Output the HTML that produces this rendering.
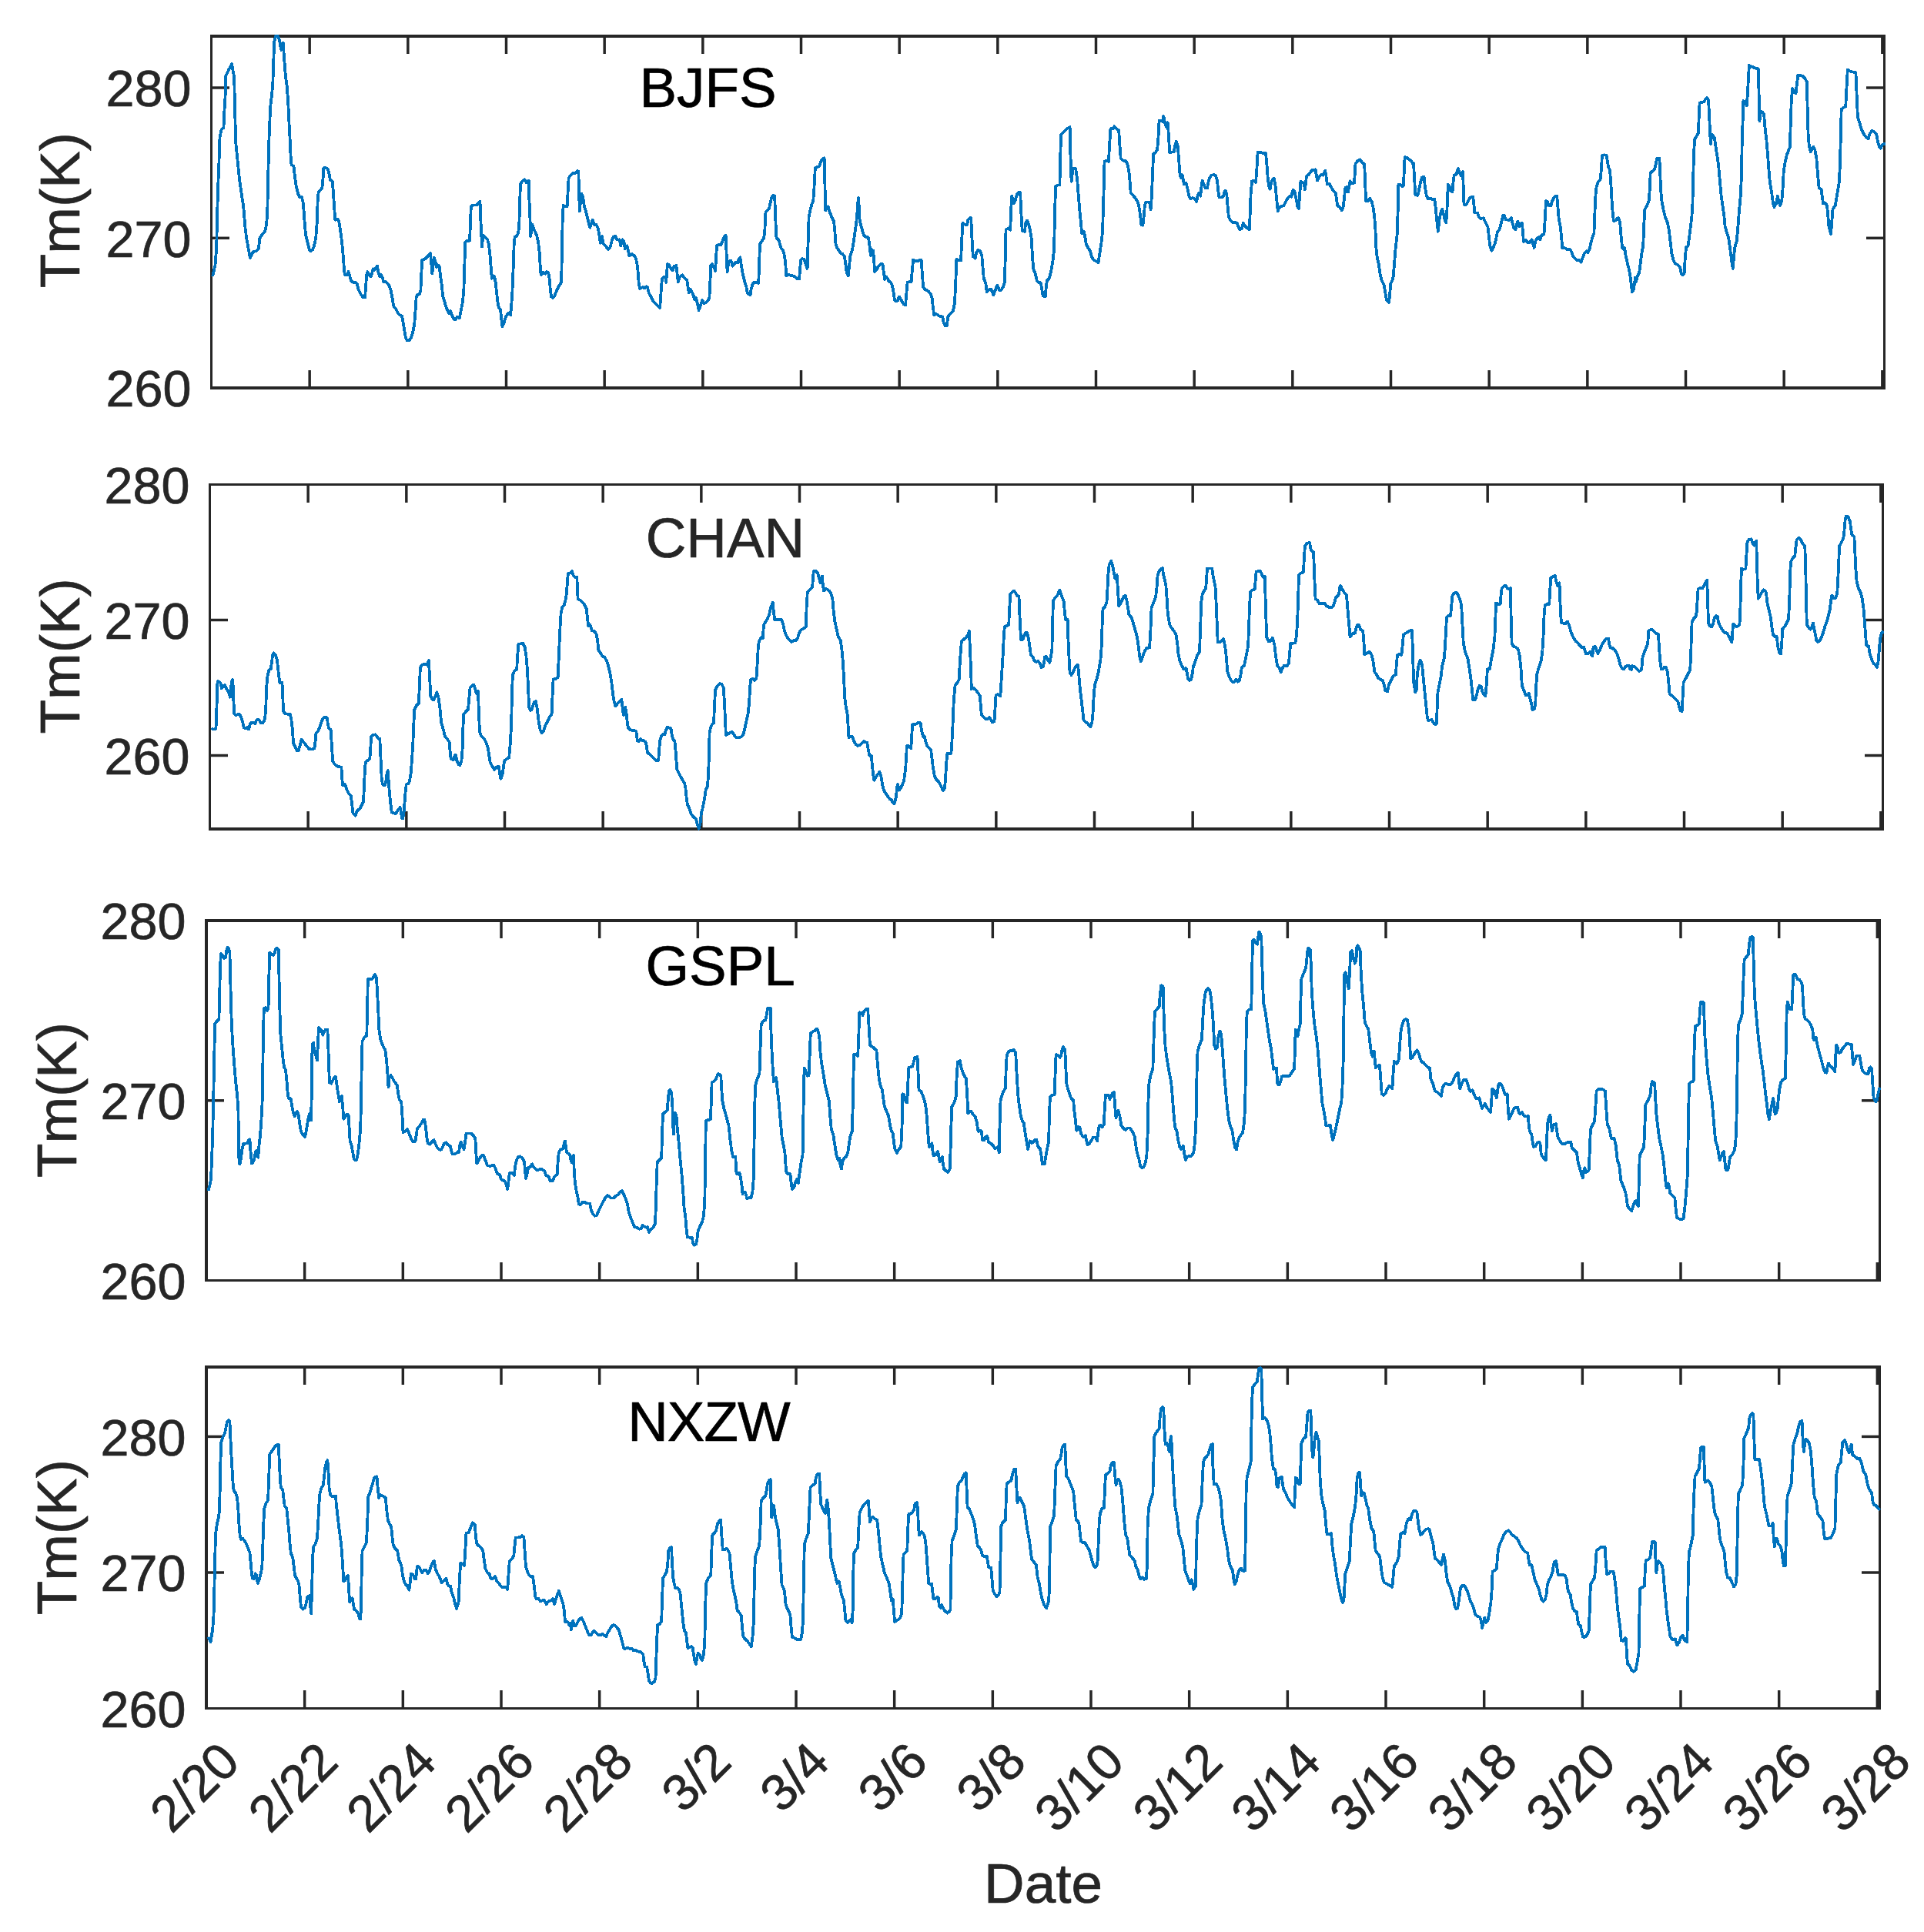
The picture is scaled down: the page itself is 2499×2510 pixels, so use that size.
<!DOCTYPE html>
<html><head><meta charset="utf-8"><title>Tm time series</title>
<style>
html,body{margin:0;padding:0;background:#fff}
svg{display:block}
text{font-family:"Liberation Sans",sans-serif;stroke-width:0.7px;stroke-linejoin:round}
</style></head><body>
<svg width="2499" height="2510" viewBox="0 0 2499 2510">
<rect width="2499" height="2510" fill="#fff"/>
<g fill="#262626" shape-rendering="crispEdges">
<rect x="273" y="45" width="2176" height="4"/>
<rect x="273" y="502" width="2176" height="4"/>
<rect x="273" y="45" width="3" height="461"/>
<rect x="2446" y="45" width="3" height="461"/>
</g>
<g fill="#262626"><rect x="400.43" y="45" width="3.47" height="25"/><rect x="400.43" y="481" width="3.47" height="25"/><rect x="528.10" y="45" width="3.47" height="25"/><rect x="528.10" y="481" width="3.47" height="25"/><rect x="655.77" y="45" width="3.47" height="25"/><rect x="655.77" y="481" width="3.47" height="25"/><rect x="783.43" y="45" width="3.47" height="25"/><rect x="783.43" y="481" width="3.47" height="25"/><rect x="911.10" y="45" width="3.47" height="25"/><rect x="911.10" y="481" width="3.47" height="25"/><rect x="1038.77" y="45" width="3.47" height="25"/><rect x="1038.77" y="481" width="3.47" height="25"/><rect x="1166.43" y="45" width="3.47" height="25"/><rect x="1166.43" y="481" width="3.47" height="25"/><rect x="1294.10" y="45" width="3.47" height="25"/><rect x="1294.10" y="481" width="3.47" height="25"/><rect x="1421.77" y="45" width="3.47" height="25"/><rect x="1421.77" y="481" width="3.47" height="25"/><rect x="1549.44" y="45" width="3.47" height="25"/><rect x="1549.44" y="481" width="3.47" height="25"/><rect x="1677.10" y="45" width="3.47" height="25"/><rect x="1677.10" y="481" width="3.47" height="25"/><rect x="1804.77" y="45" width="3.47" height="25"/><rect x="1804.77" y="481" width="3.47" height="25"/><rect x="1932.44" y="45" width="3.47" height="25"/><rect x="1932.44" y="481" width="3.47" height="25"/><rect x="2060.10" y="45" width="3.47" height="25"/><rect x="2060.10" y="481" width="3.47" height="25"/><rect x="2187.77" y="45" width="3.47" height="25"/><rect x="2187.77" y="481" width="3.47" height="25"/><rect x="2315.44" y="45" width="3.47" height="25"/><rect x="2315.44" y="481" width="3.47" height="25"/><rect x="2443.10" y="45" width="3.47" height="25"/><rect x="2443.10" y="481" width="3.47" height="25"/><rect x="273" y="112.27" width="25" height="3.47"/><rect x="2424" y="112.27" width="25" height="3.47"/><rect x="273" y="307.56" width="25" height="3.47"/><rect x="2424" y="307.56" width="25" height="3.47"/></g>
<clipPath id="c0"><rect x="273" y="45" width="2176" height="461"/></clipPath>
<path d="M276.2,358.9 L279.5,344.4 L281.2,321.9 L282.0,284.5 L283.0,247.1 L284.5,209.7 L285.5,178.5 L287.5,168.5 L290.4,166.0 L291.4,144.8 L292.9,119.8 L293.2,98.6 L297.4,89.9 L301.2,83.2 L302.4,91.1 L304.2,99.9 L304.9,134.8 L306.2,184.7 L308.7,209.7 L311.2,234.6 L313.7,252.1 L316.1,267.0 L318.6,297.0 L320.4,310.7 L322.9,324.4 L324.9,335.1 L327.4,329.4 L329.4,326.9 L332.4,326.4 L335.9,323.2 L337.4,309.5 L340.6,304.5 L344.3,300.2 L346.1,292.0 L347.3,274.5 L348.1,234.6 L349.3,184.7 L351.1,139.8 L353.1,122.3 L354.3,109.9 L355.3,79.9 L356.1,55.0 L357.8,47.0 L361.1,47.0 L363.1,52.5 L364.3,60.0 L365.3,64.9 L366.8,56.2 L368.0,55.7 L368.5,67.4 L369.8,84.9 L371.0,99.9 L372.8,112.3 L374.3,134.8 L375.5,159.8 L376.8,184.7 L377.8,207.2 L378.5,214.1 L381.5,215.9 L382.8,228.4 L384.8,242.1 L387.3,252.1 L389.0,255.8 L391.7,255.8 L393.5,262.0 L394.7,274.5 L396.0,294.5 L397.2,305.7 L399.7,315.7 L401.7,324.4 L403.7,326.2 L406.0,324.4 L408.0,319.4 L410.2,309.5 L411.7,289.5 L412.7,259.6 L413.7,249.6 L415.9,247.1 L418.4,244.1 L419.7,229.6 L420.4,218.4 L422.7,217.9 L425.9,219.6 L427.7,227.1 L428.9,233.4 L431.7,235.8 L432.7,247.1 L434.2,269.5 L435.2,285.7 L438.4,284.5 L440.1,287.0 L442.1,299.5 L444.1,314.4 L445.9,334.4 L447.1,351.9 L447.9,356.9 L450.9,356.9 L452.6,353.1 L454.1,358.1 L455.9,364.3 L458.4,366.8 L462.1,366.8 L463.9,369.3 L465.8,376.8 L468.3,381.8 L471.6,386.3 L474.1,386.3 L475.1,371.8 L476.3,356.9 L477.3,353.1 L479.1,356.4 L481.6,359.4 L483.3,354.4 L484.6,349.4 L486.6,350.6 L488.3,348.1 L490.0,345.6 L491.5,354.4 L493.3,359.4 L495.0,356.9 L497.0,361.8 L498.3,366.3 L500.8,365.6 L503.3,368.1 L505.8,371.8 L507.5,376.8 L509.5,386.8 L510.8,395.5 L512.0,399.3 L514.5,401.8 L517.0,406.8 L519.5,409.3 L522.0,410.5 L523.7,419.2 L525.7,431.7 L527.0,439.2 L528.7,442.4 L531.5,442.4 L534.0,438.7 L536.2,431.7 L538.2,421.7 L539.5,404.3 L540.7,385.5 L542.4,383.1 L544.9,381.8 L546.4,376.8 L547.4,354.4 L548.2,338.1 L551.9,336.4 L554.4,334.4 L556.9,331.4 L558.9,328.9 L560.2,341.9 L561.4,355.6 L562.4,341.9 L563.9,334.4 L565.6,340.6 L566.9,346.9 L568.9,344.4 L570.6,345.6 L571.9,356.9 L573.9,371.8 L575.1,384.3 L578.1,394.3 L580.6,401.8 L583.1,407.5 L585.1,403.8 L586.9,409.3 L589.4,414.2 L591.3,415.5 L593.8,411.7 L596.8,413.0 L598.1,406.8 L600.6,394.3 L602.3,379.3 L603.3,346.9 L604.3,314.4 L606.3,312.7 L610.1,312.7 L610.8,294.5 L611.8,268.3 L614.3,266.5 L619.3,266.5 L621.8,263.3 L623.5,262.0 L624.3,284.5 L625.5,309.5 L626.0,320.7 L627.3,305.7 L629.8,308.2 L633.0,310.7 L634.8,316.9 L636.3,329.4 L637.5,344.4 L638.8,361.8 L640.0,358.1 L642.2,359.4 L643.7,366.8 L645.5,384.3 L646.7,394.3 L648.0,399.8 L650.0,401.8 L651.2,414.2 L652.5,424.2 L654.7,419.2 L656.7,412.2 L659.2,408.0 L661.7,406.3 L663.2,409.3 L664.2,396.8 L665.4,379.3 L666.7,346.9 L667.7,316.9 L668.7,307.7 L671.2,307.0 L672.9,303.2 L674.2,294.5 L674.9,272.0 L675.9,239.1 L678.4,235.8 L681.2,233.4 L683.7,237.1 L686.7,234.6 L687.4,259.6 L688.7,289.5 L689.2,307.0 L690.6,295.7 L691.6,292.0 L693.6,298.2 L695.4,302.0 L697.1,305.7 L699.1,314.4 L700.6,326.9 L701.6,344.4 L702.6,356.9 L705.4,353.9 L708.6,355.6 L710.4,353.1 L712.4,354.4 L713.6,361.8 L714.9,376.8 L716.1,385.5 L718.3,386.8 L720.3,384.3 L723.6,376.3 L726.6,370.6 L729.1,366.8 L729.8,334.4 L730.6,289.5 L731.6,267.0 L734.1,268.3 L736.6,268.3 L737.3,254.6 L738.6,232.1 L740.3,228.4 L744.0,225.1 L748.0,224.6 L750.0,222.1 L751.4,222.6 L751.9,247.1 L752.9,274.5 L754.2,259.6 L755.4,251.6 L756.9,254.6 L758.7,267.0 L761.2,275.8 L763.7,285.7 L766.2,295.7 L768.7,288.2 L769.9,285.7 L771.9,292.0 L774.4,292.0 L776.9,297.0 L778.6,307.0 L779.9,315.7 L781.9,307.0 L783.6,316.9 L787.4,320.7 L790.4,323.9 L792.4,321.9 L794.9,311.9 L796.9,307.5 L799.4,307.0 L801.1,310.7 L803.6,311.9 L804.8,311.4 L806.1,319.4 L808.6,311.4 L810.3,313.2 L811.8,323.2 L814.3,319.4 L816.1,325.7 L817.3,332.4 L821.1,330.2 L823.6,331.9 L825.5,334.4 L827.3,341.9 L828.5,351.9 L829.8,369.3 L831.0,374.8 L834.8,373.1 L837.3,374.3 L839.3,372.3 L841.0,373.3 L842.8,380.6 L844.8,384.3 L847.3,389.3 L849.3,392.3 L852.2,395.5 L854.7,398.0 L857.2,399.8 L858.0,389.3 L859.2,369.3 L860.2,361.8 L862.2,360.1 L864.0,359.9 L865.2,366.8 L866.5,349.4 L867.2,343.1 L869.0,344.4 L871.0,348.1 L873.5,351.4 L875.9,345.6 L878.4,345.1 L879.7,356.9 L880.9,366.3 L882.7,360.6 L884.7,358.6 L886.7,357.4 L888.4,360.6 L890.4,362.3 L892.2,363.8 L893.4,371.8 L894.7,380.1 L896.7,375.6 L898.4,378.8 L900.4,383.1 L902.1,388.8 L904.1,387.3 L905.9,394.3 L907.6,403.0 L909.6,398.0 L912.1,389.8 L914.6,394.3 L917.1,393.0 L919.6,390.5 L921.4,386.8 L922.1,371.8 L923.4,344.4 L924.6,343.1 L927.1,346.4 L929.1,351.9 L930.1,334.4 L931.1,318.9 L933.3,318.2 L936.6,318.2 L938.3,313.2 L940.8,307.5 L942.6,305.7 L943.3,321.9 L944.6,353.1 L945.8,344.4 L947.1,339.4 L949.6,338.9 L951.5,345.6 L953.3,343.1 L955.8,340.6 L958.3,341.4 L959.5,336.9 L961.3,334.4 L962.8,344.4 L965.0,356.9 L967.5,366.8 L969.5,373.1 L970.8,380.6 L972.5,382.3 L974.5,383.1 L975.7,375.6 L977.5,369.3 L979.5,366.8 L982.0,366.8 L985.2,368.1 L986.0,346.9 L987.0,316.9 L989.5,313.2 L992.0,309.5 L993.2,302.0 L994.5,275.8 L997.0,273.3 L999.0,270.8 L1000.7,263.3 L1002.4,255.8 L1004.4,254.1 L1006.2,254.6 L1006.9,274.5 L1008.2,307.0 L1009.4,310.7 L1011.4,311.4 L1013.2,318.2 L1014.9,323.2 L1016.9,324.9 L1018.9,331.9 L1020.2,341.9 L1021.4,358.6 L1023.2,356.9 L1025.6,357.4 L1028.1,358.1 L1030.6,358.6 L1033.1,359.9 L1035.6,362.3 L1038.1,362.3 L1038.9,351.9 L1040.1,338.1 L1041.9,336.1 L1044.4,336.9 L1046.4,343.1 L1048.6,348.9 L1049.4,321.9 L1050.6,282.0 L1052.3,273.3 L1054.3,265.8 L1056.3,260.8 L1057.3,247.1 L1058.8,218.4 L1061.3,217.1 L1064.3,215.9 L1066.3,209.7 L1068.8,205.9 L1070.6,205.4 L1071.3,234.6 L1072.3,273.3 L1073.8,269.5 L1075.5,268.3 L1076.8,273.3 L1079.3,279.5 L1081.3,284.5 L1083.0,287.0 L1084.3,299.5 L1085.5,316.9 L1087.3,321.9 L1089.8,325.7 L1091.8,328.9 L1094.3,329.9 L1096.8,333.2 L1098.5,344.4 L1099.8,354.4 L1101.7,358.1 L1103.0,346.9 L1104.2,333.2 L1106.7,325.7 L1108.7,314.4 L1111.2,297.0 L1113.0,282.0 L1114.2,264.5 L1115.0,257.1 L1115.7,267.0 L1116.7,287.0 L1118.7,294.5 L1120.5,300.7 L1122.2,305.7 L1124.2,307.5 L1126.2,308.2 L1127.9,308.5 L1129.2,316.9 L1130.9,331.9 L1132.4,324.4 L1134.2,325.7 L1135.4,341.9 L1136.2,353.1 L1138.7,349.9 L1140.4,346.9 L1142.9,343.9 L1145.4,342.6 L1146.7,344.4 L1147.9,354.4 L1149.2,363.1 L1150.9,359.4 L1152.9,361.8 L1154.6,365.6 L1157.1,366.8 L1159.1,371.8 L1160.9,381.8 L1162.1,390.5 L1164.1,391.3 L1166.1,390.5 L1167.9,385.5 L1169.6,388.0 L1171.6,391.8 L1174.1,395.5 L1176.1,396.3 L1177.1,384.3 L1178.6,366.8 L1181.1,366.3 L1183.6,366.3 L1184.8,351.9 L1186.1,337.4 L1188.6,338.9 L1191.6,339.4 L1194.1,338.1 L1196.6,338.1 L1197.8,354.4 L1199.1,373.1 L1201.5,376.3 L1204.0,377.3 L1206.2,378.8 L1208.7,381.8 L1210.7,388.0 L1211.9,399.3 L1213.2,409.3 L1216.2,408.0 L1219.9,410.5 L1224.4,411.7 L1225.7,419.2 L1227.4,423.0 L1229.9,423.0 L1231.2,411.7 L1234.9,406.8 L1237.9,403.8 L1239.9,394.3 L1241.1,371.8 L1242.4,336.9 L1244.9,338.1 L1248.1,338.6 L1249.1,314.4 L1250.4,290.0 L1252.9,291.5 L1256.1,292.0 L1257.4,285.7 L1259.4,283.3 L1261.3,283.3 L1262.3,307.0 L1263.8,333.2 L1266.6,335.6 L1268.1,328.2 L1270.3,324.9 L1272.8,325.7 L1275.3,331.9 L1276.6,348.1 L1277.8,361.8 L1280.3,368.1 L1281.8,379.3 L1284.3,376.3 L1287.3,375.6 L1290.3,383.1 L1292.8,376.8 L1295.3,370.6 L1297.8,376.8 L1300.3,376.8 L1302.8,373.1 L1304.8,366.8 L1305.8,334.4 L1306.5,298.2 L1309.0,297.0 L1312.2,298.7 L1313.2,272.0 L1314.2,254.6 L1316.7,264.5 L1318.5,260.8 L1321.0,252.1 L1323.5,250.1 L1325.2,250.1 L1326.2,274.5 L1327.7,300.0 L1331.0,300.7 L1332.2,289.5 L1334.0,286.5 L1335.9,290.7 L1337.9,298.2 L1339.7,309.5 L1340.9,331.9 L1342.2,348.9 L1344.7,355.6 L1346.7,364.3 L1348.7,366.8 L1351.7,367.3 L1353.4,376.8 L1354.7,384.3 L1357.7,385.5 L1358.9,371.8 L1360.1,364.3 L1362.6,361.8 L1365.1,353.1 L1367.6,338.1 L1369.1,324.4 L1370.1,274.5 L1371.1,242.1 L1373.4,240.8 L1376.4,240.1 L1377.1,209.7 L1378.1,174.7 L1382.1,171.0 L1385.8,167.2 L1389.6,165.2 L1390.3,197.2 L1391.6,235.8 L1392.8,224.6 L1394.1,218.4 L1397.1,219.1 L1399.1,232.1 L1400.8,254.6 L1402.6,275.8 L1404.6,297.0 L1405.3,303.2 L1407.8,300.7 L1409.6,309.5 L1410.8,316.9 L1413.3,321.9 L1415.8,325.7 L1418.3,334.4 L1420.8,338.1 L1424.0,339.4 L1426.5,341.1 L1428.3,329.4 L1430.3,316.9 L1432.0,302.0 L1433.3,259.6 L1434.5,210.1 L1437.0,208.4 L1440.0,209.7 L1441.0,189.7 L1442.5,167.2 L1445.7,167.2 L1447.5,164.2 L1450.0,167.2 L1453.2,169.2 L1454.5,189.7 L1455.7,205.9 L1458.2,208.4 L1462.4,209.2 L1464.9,214.6 L1466.9,227.1 L1468.7,250.8 L1471.2,253.3 L1474.4,257.1 L1477.4,261.5 L1479.4,268.3 L1481.2,280.8 L1482.4,292.0 L1484.4,292.7 L1485.6,282.0 L1486.9,267.0 L1488.1,262.5 L1490.6,262.5 L1493.1,263.3 L1494.6,272.0 L1495.6,259.6 L1496.9,229.6 L1498.1,199.7 L1500.6,198.4 L1503.1,194.7 L1504.4,179.7 L1505.6,156.5 L1508.1,157.3 L1509.9,157.8 L1511.3,151.0 L1513.1,159.8 L1514.8,164.7 L1516.8,159.3 L1518.1,179.7 L1519.3,198.4 L1521.8,197.7 L1524.8,197.2 L1526.1,189.7 L1527.8,183.5 L1529.8,189.7 L1531.3,209.7 L1532.6,227.1 L1533.8,230.9 L1535.5,227.1 L1536.8,233.4 L1538.0,239.6 L1540.5,237.6 L1542.3,244.6 L1544.3,254.6 L1546.0,258.3 L1549.3,257.1 L1551.8,258.3 L1554.3,262.0 L1555.5,254.6 L1557.3,250.8 L1559.3,254.6 L1560.5,242.1 L1561.7,234.6 L1563.7,239.6 L1565.5,244.1 L1568.0,244.6 L1569.2,237.6 L1571.2,230.9 L1573.5,227.6 L1576.7,227.1 L1579.2,228.4 L1581.0,234.6 L1582.2,247.1 L1583.5,256.3 L1586.2,256.6 L1588.7,255.8 L1590.4,249.6 L1591.7,247.6 L1593.4,253.3 L1594.7,269.5 L1595.9,282.0 L1597.9,285.7 L1601.2,289.0 L1604.2,289.0 L1606.7,290.0 L1608.4,294.5 L1610.4,298.2 L1612.9,297.0 L1614.6,290.0 L1616.6,293.2 L1619.1,295.7 L1622.9,298.2 L1623.6,279.5 L1624.6,252.1 L1626.1,235.3 L1629.1,235.1 L1631.1,237.1 L1632.4,219.6 L1633.6,197.7 L1636.6,197.9 L1640.3,198.9 L1644.1,199.2 L1645.3,212.1 L1646.6,229.6 L1647.8,240.8 L1649.6,245.8 L1651.1,237.1 L1652.8,233.4 L1654.8,231.6 L1656.6,242.1 L1658.3,259.6 L1659.8,274.5 L1661.5,269.5 L1664.0,268.3 L1667.5,267.0 L1670.0,262.0 L1672.9,257.1 L1675.4,255.1 L1677.4,255.8 L1678.7,248.3 L1679.9,246.6 L1681.9,250.1 L1683.7,259.6 L1685.4,268.3 L1686.9,270.8 L1688.2,252.1 L1689.4,235.8 L1691.9,237.1 L1693.7,238.3 L1694.9,246.6 L1696.1,237.1 L1696.9,229.1 L1699.9,226.6 L1702.4,223.4 L1704.4,220.9 L1708.6,220.4 L1709.9,228.4 L1711.1,234.6 L1713.6,229.1 L1716.1,227.1 L1718.6,227.6 L1721.1,221.6 L1722.3,227.1 L1723.8,239.6 L1726.8,239.1 L1729.8,244.6 L1732.3,248.3 L1734.8,250.8 L1736.1,259.6 L1737.3,267.0 L1739.8,269.0 L1742.8,273.3 L1744.8,268.3 L1746.0,257.1 L1747.3,244.1 L1749.3,242.6 L1751.0,249.6 L1752.3,242.1 L1753.5,235.3 L1756.0,238.3 L1759.0,237.6 L1759.8,224.6 L1760.5,212.6 L1763.5,208.9 L1766.5,207.2 L1769.0,210.9 L1772.2,213.4 L1773.0,234.6 L1774.2,261.5 L1777.2,260.8 L1779.2,257.8 L1781.7,262.0 L1783.5,269.5 L1785.2,280.8 L1786.5,299.5 L1787.2,319.4 L1788.5,333.2 L1791.0,344.4 L1792.7,356.9 L1794.7,364.3 L1797.7,370.6 L1799.2,379.3 L1800.9,389.3 L1804.2,393.0 L1805.2,381.8 L1806.4,368.1 L1808.4,364.3 L1809.7,359.4 L1810.9,344.4 L1812.7,321.9 L1814.7,304.5 L1815.7,272.0 L1816.4,239.6 L1818.9,239.6 L1821.4,242.1 L1822.9,240.8 L1823.9,219.6 L1824.6,204.2 L1827.1,204.7 L1830.1,207.2 L1832.6,208.4 L1834.6,212.1 L1836.1,212.1 L1837.1,232.1 L1838.4,253.3 L1840.9,253.8 L1842.1,252.1 L1843.4,244.6 L1845.3,235.8 L1847.1,230.4 L1849.6,230.1 L1850.8,242.1 L1852.6,253.3 L1854.6,258.3 L1858.3,257.8 L1860.8,259.1 L1863.3,258.8 L1864.6,269.5 L1866.3,287.0 L1867.8,300.7 L1869.6,284.5 L1871.5,275.8 L1873.3,271.5 L1875.0,278.3 L1877.0,287.0 L1878.3,289.5 L1879.5,272.0 L1880.8,239.6 L1882.5,242.1 L1884.0,248.3 L1886.5,249.1 L1887.5,237.1 L1888.8,227.6 L1891.5,226.6 L1893.8,219.1 L1895.7,223.4 L1897.5,228.4 L1900.0,222.9 L1900.7,242.1 L1901.5,265.8 L1904.5,265.8 L1907.0,260.8 L1909.5,256.6 L1913.2,255.8 L1914.5,267.0 L1915.2,276.5 L1919.0,276.5 L1920.7,281.5 L1923.2,284.0 L1926.9,283.3 L1929.4,289.0 L1932.4,294.5 L1933.9,307.0 L1935.2,319.4 L1937.4,325.7 L1939.4,321.9 L1941.9,315.7 L1943.9,307.0 L1945.1,300.7 L1947.6,298.2 L1949.9,289.5 L1952.4,279.5 L1953.9,280.3 L1955.6,285.2 L1958.9,285.7 L1960.6,285.7 L1963.1,283.3 L1964.4,289.5 L1966.4,296.5 L1968.6,298.2 L1969.9,292.0 L1971.3,287.5 L1973.1,294.5 L1974.8,290.7 L1976.8,289.5 L1978.1,302.0 L1978.8,313.9 L1981.8,311.9 L1984.3,314.9 L1986.8,314.9 L1989.8,311.4 L1991.3,316.9 L1992.6,321.9 L1994.3,313.2 L1996.8,309.5 L1998.8,308.2 L2000.5,311.4 L2002.3,305.7 L2005.5,304.0 L2006.8,284.5 L2008.0,260.8 L2009.8,262.0 L2011.8,267.0 L2014.3,267.5 L2016.3,260.8 L2018.5,256.6 L2020.5,254.6 L2022.2,254.6 L2023.5,269.5 L2024.7,284.5 L2026.7,294.5 L2028.0,307.0 L2029.2,321.9 L2033.0,322.4 L2035.5,323.9 L2039.2,323.9 L2041.7,328.2 L2043.0,332.4 L2045.4,335.6 L2047.9,338.1 L2051.2,338.1 L2053.7,340.6 L2055.4,335.6 L2057.9,329.4 L2060.4,326.4 L2062.4,328.2 L2064.7,323.2 L2066.7,314.4 L2069.2,305.7 L2070.4,303.2 L2071.6,272.0 L2072.9,245.8 L2074.6,239.6 L2076.1,235.8 L2078.6,233.4 L2079.9,219.6 L2080.9,202.2 L2083.6,201.4 L2086.6,201.7 L2087.9,209.7 L2089.1,217.1 L2091.1,221.6 L2092.4,239.6 L2094.1,269.5 L2095.8,287.0 L2098.6,286.5 L2100.3,284.0 L2102.1,282.8 L2104.1,288.2 L2105.6,307.0 L2107.1,321.9 L2108.6,323.9 L2110.1,321.9 L2111.6,331.9 L2114.1,343.1 L2116.1,350.6 L2117.8,361.8 L2119.1,371.8 L2119.8,379.3 L2121.5,377.3 L2122.8,369.3 L2124.0,360.6 L2124.7,366.8 L2126.7,359.4 L2129.2,353.9 L2131.0,339.4 L2132.7,326.9 L2134.2,319.4 L2135.4,289.5 L2136.4,272.0 L2139.2,267.0 L2141.7,260.8 L2142.7,247.1 L2143.7,224.1 L2146.7,222.1 L2149.2,219.6 L2150.9,212.1 L2152.2,205.9 L2155.4,205.9 L2156.2,224.6 L2157.2,247.1 L2158.4,260.8 L2160.4,272.0 L2162.9,282.0 L2165.9,289.5 L2167.9,299.5 L2169.6,314.4 L2171.4,329.4 L2173.4,338.1 L2175.9,342.4 L2179.1,343.9 L2182.1,347.4 L2183.9,355.6 L2185.8,357.4 L2187.6,354.9 L2188.8,334.4 L2190.1,321.4 L2192.6,319.4 L2194.6,304.5 L2197.1,284.5 L2198.3,269.5 L2199.1,234.6 L2200.1,197.2 L2201.3,181.0 L2203.3,177.2 L2205.8,173.5 L2206.6,154.8 L2207.6,133.6 L2210.8,132.8 L2213.3,132.3 L2215.0,129.3 L2217.0,127.3 L2219.0,129.8 L2220.0,147.3 L2221.0,171.0 L2222.0,187.2 L2223.3,174.7 L2225.0,176.0 L2227.0,179.7 L2228.3,189.7 L2230.3,202.2 L2232.0,213.4 L2233.8,234.6 L2235.7,254.6 L2237.5,267.0 L2239.5,282.0 L2240.7,294.5 L2243.2,303.2 L2245.2,309.5 L2247.0,321.9 L2249.0,338.1 L2250.7,348.9 L2252.0,334.4 L2253.2,321.9 L2255.7,313.2 L2257.0,299.5 L2258.7,277.0 L2260.7,254.6 L2261.9,229.6 L2262.7,184.7 L2263.7,154.8 L2264.4,131.1 L2266.9,132.3 L2268.7,137.3 L2269.9,122.3 L2270.9,102.4 L2271.9,84.9 L2274.4,86.1 L2278.2,87.9 L2280.7,88.6 L2283.7,89.4 L2284.4,114.8 L2285.4,157.3 L2286.9,144.8 L2289.4,146.0 L2291.1,148.5 L2292.4,164.7 L2294.4,182.2 L2296.1,202.2 L2297.6,222.1 L2298.9,237.1 L2301.4,252.1 L2303.1,264.5 L2304.4,269.0 L2306.9,264.5 L2308.9,254.6 L2310.6,262.0 L2312.3,267.0 L2314.3,260.8 L2315.6,244.6 L2316.8,222.1 L2318.8,209.7 L2320.6,202.2 L2322.3,197.2 L2324.8,190.9 L2325.8,159.8 L2326.8,129.8 L2328.1,114.8 L2329.8,119.8 L2332.6,121.1 L2333.8,109.9 L2335.3,97.9 L2338.8,97.9 L2341.8,99.1 L2344.3,101.9 L2346.8,106.1 L2347.5,134.8 L2348.5,172.2 L2349.8,189.7 L2351.8,197.2 L2353.8,192.2 L2355.5,190.9 L2357.3,194.7 L2359.3,204.7 L2360.5,219.6 L2361.7,234.6 L2362.7,244.1 L2365.5,245.8 L2366.7,254.6 L2368.0,264.5 L2371.2,264.0 L2373.0,267.0 L2374.2,279.5 L2375.5,294.5 L2378.0,304.0 L2379.2,289.5 L2380.5,272.0 L2383.7,267.0 L2385.9,254.6 L2388.7,237.1 L2389.9,214.6 L2390.9,174.7 L2391.7,141.8 L2394.2,139.8 L2397.2,138.5 L2398.2,119.8 L2399.2,99.9 L2399.9,90.4 L2402.9,92.4 L2406.7,93.6 L2410.4,94.1 L2411.6,122.3 L2412.9,152.3 L2415.4,159.8 L2417.9,168.5 L2420.4,173.5 L2423.6,178.0 L2426.6,180.5 L2428.6,173.5 L2431.6,169.7 L2434.1,171.0 L2437.3,174.7 L2439.1,184.7 L2441.1,190.9 L2442.8,192.7 L2444.6,188.4 L2446.6,187.2 L2448.6,187.2" fill="none" stroke="#0072bd" stroke-width="3.8" stroke-linejoin="round" stroke-linecap="butt" shape-rendering="crispEdges" clip-path="url(#c0)"/>
<text x="248.5" y="138.2" font-size="66.5" fill="#262626" stroke="#262626" text-anchor="end">280</text>
<text x="248.5" y="333.5" font-size="66.5" fill="#262626" stroke="#262626" text-anchor="end">270</text>
<text x="248.5" y="528.2" font-size="66.5" fill="#262626" stroke="#262626" text-anchor="end">260</text>
<text transform="translate(103,273.1) rotate(-90)" font-size="72.8" fill="#262626" stroke="#262626" text-anchor="middle">Tm(K)</text>
<text x="830.5" y="138.9" font-size="72.8" fill="#000" stroke="#000">BJFS</text>
<g fill="#262626" shape-rendering="crispEdges">
<rect x="271" y="628" width="2176" height="3"/>
<rect x="271" y="1075" width="2176" height="4"/>
<rect x="271" y="628" width="3" height="451"/>
<rect x="2444" y="628" width="3" height="451"/>
</g>
<g fill="#262626"><rect x="398.43" y="628" width="3.47" height="25"/><rect x="398.43" y="1054" width="3.47" height="25"/><rect x="526.10" y="628" width="3.47" height="25"/><rect x="526.10" y="1054" width="3.47" height="25"/><rect x="653.77" y="628" width="3.47" height="25"/><rect x="653.77" y="1054" width="3.47" height="25"/><rect x="781.43" y="628" width="3.47" height="25"/><rect x="781.43" y="1054" width="3.47" height="25"/><rect x="909.10" y="628" width="3.47" height="25"/><rect x="909.10" y="1054" width="3.47" height="25"/><rect x="1036.77" y="628" width="3.47" height="25"/><rect x="1036.77" y="1054" width="3.47" height="25"/><rect x="1164.43" y="628" width="3.47" height="25"/><rect x="1164.43" y="1054" width="3.47" height="25"/><rect x="1292.10" y="628" width="3.47" height="25"/><rect x="1292.10" y="1054" width="3.47" height="25"/><rect x="1419.77" y="628" width="3.47" height="25"/><rect x="1419.77" y="1054" width="3.47" height="25"/><rect x="1547.44" y="628" width="3.47" height="25"/><rect x="1547.44" y="1054" width="3.47" height="25"/><rect x="1675.10" y="628" width="3.47" height="25"/><rect x="1675.10" y="1054" width="3.47" height="25"/><rect x="1802.77" y="628" width="3.47" height="25"/><rect x="1802.77" y="1054" width="3.47" height="25"/><rect x="1930.44" y="628" width="3.47" height="25"/><rect x="1930.44" y="1054" width="3.47" height="25"/><rect x="2058.10" y="628" width="3.47" height="25"/><rect x="2058.10" y="1054" width="3.47" height="25"/><rect x="2185.77" y="628" width="3.47" height="25"/><rect x="2185.77" y="1054" width="3.47" height="25"/><rect x="2313.44" y="628" width="3.47" height="25"/><rect x="2313.44" y="1054" width="3.47" height="25"/><rect x="2441.10" y="628" width="3.47" height="25"/><rect x="2441.10" y="1054" width="3.47" height="25"/><rect x="271" y="803.76" width="25" height="3.47"/><rect x="2422" y="803.76" width="25" height="3.47"/><rect x="271" y="979.76" width="25" height="3.47"/><rect x="2422" y="979.76" width="25" height="3.47"/></g>
<clipPath id="c1"><rect x="271" y="628" width="2176" height="451"/></clipPath>
<path d="M274.2,946.3 L277.5,947.6 L280.5,946.8 L281.2,926.9 L282.0,901.9 L282.5,885.2 L285.0,885.7 L286.7,888.2 L287.9,894.4 L289.9,890.7 L291.9,890.2 L293.7,893.9 L295.7,896.9 L297.4,900.7 L298.9,905.7 L299.9,894.4 L301.2,884.5 L302.4,883.2 L303.2,906.9 L304.2,926.9 L306.2,929.4 L308.7,928.1 L311.1,928.1 L313.1,931.4 L314.9,936.9 L316.9,945.6 L319.4,946.3 L321.1,944.8 L323.1,947.6 L324.9,940.6 L326.9,938.6 L329.4,939.4 L331.6,940.1 L333.1,935.6 L334.9,934.4 L336.8,935.6 L338.6,939.4 L341.1,939.4 L343.1,936.9 L344.3,931.9 L345.3,919.4 L346.1,894.4 L347.3,879.5 L349.3,870.7 L351.8,869.0 L352.8,862.0 L354.1,850.8 L355.3,848.3 L357.8,850.8 L359.8,857.0 L361.0,867.0 L362.3,879.5 L363.5,887.0 L366.5,887.0 L367.3,904.4 L368.0,923.9 L369.8,926.9 L372.8,927.6 L376.8,927.6 L378.5,935.6 L379.8,946.8 L381.0,965.5 L383.5,970.5 L386.0,975.5 L387.7,975.5 L389.7,968.0 L391.7,960.6 L393.5,963.1 L396.0,966.3 L398.5,969.3 L401.5,973.0 L404.7,973.5 L408.5,972.3 L409.7,961.8 L410.4,953.1 L413.4,949.3 L415.9,943.1 L417.7,936.9 L419.7,933.1 L421.7,931.9 L424.7,932.4 L425.9,940.6 L427.2,946.3 L429.7,948.1 L430.9,969.3 L432.2,988.8 L434.7,993.0 L437.6,995.0 L440.1,996.2 L443.4,996.7 L444.1,1009.2 L445.1,1020.4 L448.4,1019.2 L450.1,1025.4 L452.6,1030.4 L455.9,1034.2 L457.1,1044.1 L458.4,1056.1 L461.6,1059.6 L463.3,1054.6 L465.1,1052.1 L467.1,1051.1 L469.6,1046.1 L472.1,1041.1 L472.8,1024.2 L474.1,996.7 L475.1,989.8 L477.6,988.0 L480.3,986.0 L481.3,971.8 L482.1,956.8 L484.6,954.8 L487.5,954.3 L489.5,956.8 L491.5,959.3 L493.3,959.8 L494.5,984.3 L495.8,1014.2 L497.5,1019.7 L500.0,1020.4 L501.5,1014.2 L502.5,1005.5 L503.8,1001.2 L505.0,1019.2 L507.0,1041.6 L508.8,1055.4 L512.0,1056.6 L514.5,1056.6 L517.0,1052.1 L519.5,1049.1 L520.7,1054.1 L522.0,1062.9 L523.2,1063.4 L524.5,1056.6 L526.5,1030.4 L527.7,1019.2 L530.7,1017.9 L532.0,1014.2 L533.7,1004.2 L535.2,984.3 L536.4,964.3 L537.4,939.4 L538.2,921.9 L540.7,916.9 L543.9,913.7 L544.9,889.5 L545.9,867.0 L548.2,864.0 L550.7,862.5 L554.4,863.8 L555.7,860.8 L556.9,858.3 L557.9,877.0 L559.4,904.4 L561.1,908.2 L563.1,909.4 L565.6,904.4 L567.4,899.4 L569.4,905.7 L571.4,919.4 L573.1,938.9 L575.6,946.8 L578.1,957.3 L580.6,959.8 L583.6,963.8 L584.4,974.3 L585.6,985.5 L588.8,987.3 L589.8,983.0 L591.8,980.5 L593.3,988.0 L595.6,993.0 L597.3,994.2 L599.3,989.3 L600.6,974.3 L601.3,946.8 L602.3,928.1 L605.6,923.9 L608.1,921.4 L609.3,906.9 L610.5,893.9 L613.0,890.7 L615.5,889.5 L617.3,895.7 L618.8,900.7 L621.0,898.2 L621.8,921.9 L623.0,950.6 L624.8,955.6 L626.8,958.1 L629.3,960.6 L631.8,965.5 L633.8,972.3 L635.5,983.0 L636.7,990.5 L639.2,995.5 L642.2,999.7 L644.2,997.2 L646.2,996.2 L648.0,996.2 L649.2,1005.5 L650.5,1011.7 L652.5,1006.7 L654.2,994.2 L655.5,988.0 L658.0,986.0 L661.2,984.3 L662.9,964.3 L664.2,939.4 L664.9,901.9 L665.9,877.0 L667.9,872.0 L671.2,869.5 L672.2,852.0 L673.4,837.1 L676.2,836.3 L679.2,835.8 L681.7,840.8 L683.4,852.0 L684.9,869.5 L686.1,894.4 L687.1,919.4 L689.1,923.1 L690.4,922.4 L692.1,916.9 L694.1,911.9 L695.9,911.2 L697.9,921.9 L699.6,936.9 L701.6,948.1 L703.6,952.3 L705.9,949.8 L708.4,942.3 L711.1,937.6 L713.6,931.9 L716.6,927.6 L717.3,909.4 L718.6,882.5 L721.6,882.0 L724.6,880.0 L725.8,854.5 L727.1,822.1 L728.6,797.1 L730.3,788.4 L732.8,785.9 L734.8,778.4 L736.0,769.7 L737.0,754.7 L737.8,745.2 L739.0,744.7 L740.5,744.2 L743.0,741.7 L744.5,747.2 L746.9,749.7 L749.4,749.7 L749.9,764.7 L750.7,778.4 L753.7,779.7 L756.9,782.7 L759.4,785.9 L761.7,790.9 L762.9,802.1 L764.2,813.4 L766.7,812.1 L768.7,819.1 L771.9,820.1 L774.4,823.3 L776.1,832.1 L777.4,844.5 L779.9,848.3 L782.4,852.5 L785.4,854.0 L787.9,858.3 L789.9,864.5 L792.4,874.5 L794.4,887.0 L796.1,901.9 L797.8,911.9 L799.3,917.4 L801.8,914.4 L804.3,911.4 L807.3,908.9 L808.6,919.4 L809.8,928.9 L811.1,921.9 L812.3,918.9 L813.6,926.9 L814.8,939.4 L816.1,945.6 L818.6,948.1 L821.8,949.3 L824.8,949.3 L826.5,950.6 L827.8,962.6 L829.8,963.1 L831.8,960.1 L833.5,961.8 L836.0,962.3 L838.5,963.8 L839.8,969.3 L841.0,978.0 L843.5,979.8 L846.0,982.3 L848.5,984.8 L851.7,988.0 L855.2,988.0 L856.2,974.3 L857.2,961.8 L859.2,956.3 L861.2,953.8 L863.5,954.3 L864.7,949.3 L866.7,944.8 L869.2,945.6 L871.4,946.3 L872.7,954.3 L874.2,960.6 L876.4,963.1 L877.7,976.8 L879.2,999.2 L881.7,1004.2 L884.2,1009.2 L886.7,1013.7 L889.2,1017.9 L890.4,1024.2 L891.7,1036.7 L892.9,1045.4 L895.4,1050.4 L897.9,1057.9 L900.9,1061.6 L904.1,1064.1 L905.9,1071.6 L907.6,1076.6 L909.6,1069.1 L910.9,1056.6 L912.6,1050.4 L914.6,1040.4 L916.6,1026.7 L918.9,1021.7 L920.1,1006.7 L920.8,984.3 L921.6,951.8 L923.3,944.3 L925.1,940.6 L927.1,939.4 L928.1,914.4 L929.1,896.4 L931.6,891.4 L934.6,888.2 L937.6,889.0 L939.6,893.2 L940.8,909.4 L942.1,936.9 L942.8,954.8 L945.3,953.8 L948.3,951.8 L950.8,950.6 L953.3,954.3 L955.8,958.1 L959.0,958.6 L962.5,957.3 L965.3,954.3 L967.0,948.8 L968.8,939.4 L971.5,928.1 L973.2,911.9 L974.0,894.4 L975.0,883.2 L977.5,882.0 L980.0,884.0 L982.5,880.7 L983.7,862.0 L985.0,837.1 L987.0,830.8 L989.0,828.3 L990.7,829.1 L992.0,812.1 L994.0,808.4 L996.4,804.6 L998.9,799.1 L1000.7,790.9 L1001.9,787.2 L1003.7,782.7 L1004.9,794.6 L1006.2,805.1 L1009.4,805.4 L1011.9,804.6 L1014.9,804.6 L1016.9,809.6 L1018.7,818.3 L1020.6,824.6 L1023.9,830.1 L1028.1,834.1 L1030.6,832.1 L1033.9,832.1 L1036.1,829.1 L1038.1,821.6 L1040.6,818.3 L1043.6,816.6 L1046.8,814.6 L1047.6,789.7 L1048.8,769.2 L1051.8,765.9 L1055.1,762.7 L1056.1,749.7 L1056.8,742.2 L1059.8,742.2 L1062.3,744.7 L1063.8,751.0 L1065.6,757.2 L1066.8,751.0 L1068.1,748.5 L1068.8,759.7 L1070.0,767.7 L1072.3,764.7 L1074.8,765.9 L1077.3,767.7 L1079.3,770.9 L1081.3,777.2 L1082.5,792.1 L1084.3,807.1 L1086.3,815.8 L1088.8,827.1 L1091.8,832.1 L1093.5,844.5 L1095.0,862.0 L1096.2,884.5 L1097.2,905.7 L1098.7,918.1 L1100.5,926.9 L1101.7,944.3 L1102.5,958.1 L1105.5,956.8 L1107.2,957.3 L1109.2,963.1 L1111.7,967.3 L1114.2,968.8 L1117.2,968.0 L1119.2,965.5 L1121.7,963.1 L1124.2,964.3 L1126.2,964.8 L1127.9,974.3 L1129.2,981.8 L1131.7,981.8 L1132.9,994.2 L1134.2,1006.7 L1135.4,1013.7 L1137.9,1009.2 L1140.4,1005.5 L1142.4,1003.0 L1144.2,1008.0 L1146.1,1019.2 L1147.9,1026.7 L1150.4,1030.4 L1152.9,1034.2 L1155.4,1037.9 L1157.9,1039.2 L1159.6,1042.9 L1161.6,1044.1 L1163.6,1036.7 L1165.4,1021.7 L1166.1,1019.2 L1167.9,1026.7 L1169.9,1024.2 L1172.1,1019.2 L1174.1,1014.2 L1176.1,999.2 L1177.1,984.3 L1177.8,969.3 L1180.3,969.3 L1183.3,972.3 L1184.1,959.3 L1185.1,941.3 L1187.8,940.6 L1190.3,940.6 L1192.8,938.9 L1195.8,939.4 L1197.0,949.3 L1199.0,956.8 L1200.5,956.3 L1202.0,961.8 L1203.7,968.0 L1206.2,971.3 L1209.2,974.3 L1210.4,984.3 L1211.7,995.5 L1213.7,1008.0 L1216.2,1013.0 L1218.7,1015.0 L1221.2,1019.2 L1222.9,1022.9 L1224.9,1027.2 L1226.9,1024.2 L1227.9,1014.2 L1229.2,991.7 L1230.4,978.8 L1232.9,978.8 L1235.4,978.8 L1236.4,964.3 L1237.4,944.3 L1238.6,914.4 L1239.9,896.9 L1240.6,890.2 L1243.1,887.5 L1245.6,883.2 L1246.6,864.5 L1247.9,844.5 L1248.9,833.3 L1251.6,830.8 L1254.9,828.3 L1257.3,824.6 L1258.8,819.6 L1259.8,839.6 L1261.1,869.5 L1261.8,895.2 L1264.3,893.9 L1267.3,896.4 L1269.8,899.4 L1272.8,903.9 L1273.8,916.9 L1274.8,928.9 L1277.3,931.4 L1279.8,933.9 L1282.3,934.4 L1284.8,931.9 L1286.8,934.4 L1289.0,938.6 L1291.5,936.9 L1292.3,924.4 L1293.5,903.2 L1296.0,901.9 L1299.3,904.4 L1300.3,889.5 L1301.5,869.5 L1302.8,849.5 L1303.8,827.1 L1304.8,814.6 L1307.2,812.9 L1310.2,812.1 L1311.0,794.6 L1312.2,772.2 L1314.7,769.2 L1317.2,767.7 L1319.2,770.2 L1321.0,773.9 L1323.5,774.7 L1324.2,794.6 L1325.2,814.6 L1326.0,830.8 L1328.5,830.8 L1330.4,825.8 L1332.2,822.1 L1334.2,822.1 L1335.9,829.6 L1337.7,842.0 L1338.9,850.8 L1341.7,854.0 L1343.4,858.3 L1345.9,860.0 L1348.4,859.0 L1350.9,862.0 L1352.7,867.0 L1354.7,866.5 L1356.1,860.8 L1357.1,853.3 L1359.1,852.8 L1361.4,858.3 L1363.4,860.8 L1365.1,852.0 L1366.4,843.3 L1367.1,812.1 L1367.9,780.9 L1370.1,776.7 L1372.6,774.7 L1374.6,770.9 L1376.1,766.7 L1377.9,770.9 L1379.6,775.9 L1381.6,780.9 L1382.8,794.6 L1384.1,805.4 L1386.6,804.6 L1387.3,827.1 L1388.3,849.5 L1389.6,874.5 L1391.6,877.0 L1393.8,873.2 L1395.8,868.2 L1398.3,864.5 L1400.1,864.0 L1401.3,877.0 L1402.8,894.4 L1404.6,909.4 L1406.3,924.4 L1407.5,935.6 L1410.0,938.1 L1412.5,939.4 L1414.5,942.3 L1416.3,944.3 L1418.3,939.4 L1419.5,926.9 L1420.8,901.9 L1422.0,889.5 L1424.5,882.0 L1427.0,872.0 L1429.5,857.0 L1430.7,839.6 L1431.5,814.6 L1432.5,790.9 L1435.0,788.4 L1437.5,782.2 L1438.5,764.7 L1439.5,744.7 L1440.7,733.5 L1443.2,728.5 L1445.0,734.3 L1447.0,744.7 L1448.2,751.7 L1449.5,748.5 L1450.7,747.2 L1452.0,767.2 L1453.2,787.2 L1455.2,784.7 L1457.4,779.7 L1459.9,774.7 L1461.9,773.9 L1463.9,782.2 L1466.4,798.4 L1469.4,802.1 L1471.9,809.6 L1474.4,818.3 L1476.9,827.1 L1478.7,839.6 L1480.1,852.0 L1481.9,859.5 L1483.9,853.3 L1486.9,845.8 L1489.4,842.0 L1493.1,841.5 L1494.4,819.6 L1495.6,789.7 L1498.1,783.4 L1501.1,775.9 L1502.6,762.2 L1503.6,747.2 L1505.6,742.2 L1508.1,739.0 L1509.8,738.0 L1511.3,747.2 L1514.3,759.7 L1515.6,777.2 L1516.8,797.1 L1518.8,809.6 L1520.6,814.6 L1524.3,819.1 L1527.6,824.6 L1529.3,837.1 L1530.5,849.5 L1532.3,858.3 L1534.8,864.5 L1537.3,869.0 L1540.5,868.2 L1541.8,874.5 L1543.0,882.0 L1545.0,884.0 L1547.3,882.5 L1548.8,874.5 L1549.8,866.5 L1552.3,859.5 L1554.8,852.0 L1558.0,847.0 L1559.2,814.6 L1560.2,782.2 L1561.7,772.2 L1564.2,767.2 L1566.2,764.7 L1567.2,749.7 L1568.0,738.5 L1570.5,738.5 L1574.2,738.5 L1575.5,747.2 L1578.5,762.2 L1579.7,784.7 L1580.9,814.6 L1581.7,834.1 L1584.7,834.1 L1587.2,832.1 L1589.2,830.1 L1591.2,839.6 L1592.9,854.5 L1594.2,872.0 L1596.7,879.5 L1599.2,884.5 L1601.7,886.5 L1604.2,885.0 L1605.4,882.5 L1607.4,885.7 L1609.6,884.5 L1611.1,879.5 L1612.9,867.0 L1616.1,864.5 L1618.6,852.0 L1621.1,839.6 L1622.1,814.6 L1622.9,789.7 L1624.1,769.2 L1626.6,766.7 L1629.6,765.9 L1630.6,754.7 L1631.6,742.7 L1634.1,742.2 L1637.1,742.2 L1639.1,746.5 L1640.3,749.7 L1642.8,748.5 L1643.6,777.2 L1644.6,809.6 L1645.3,828.3 L1647.8,833.3 L1650.3,832.6 L1652.8,828.8 L1655.3,837.1 L1657.0,852.0 L1659.0,864.5 L1662.0,868.2 L1663.7,873.2 L1665.7,868.2 L1667.9,864.5 L1669.9,865.0 L1671.9,865.2 L1673.7,862.0 L1674.9,852.0 L1676.2,835.8 L1678.7,835.8 L1682.4,835.1 L1683.7,827.1 L1684.9,812.1 L1686.2,777.2 L1686.9,747.2 L1689.2,744.7 L1692.9,743.5 L1693.9,724.8 L1694.9,709.3 L1697.4,706.1 L1701.1,704.8 L1702.4,712.3 L1703.6,716.0 L1706.1,716.8 L1706.9,739.8 L1707.9,764.7 L1708.6,778.4 L1711.1,779.7 L1713.6,784.2 L1717.3,783.9 L1720.3,783.4 L1722.8,787.2 L1726.1,788.9 L1729.8,788.9 L1731.8,787.2 L1733.6,782.2 L1734.8,776.7 L1737.3,774.2 L1739.1,772.2 L1740.3,762.2 L1741.3,761.0 L1743.5,765.9 L1746.0,769.7 L1749.0,773.4 L1750.3,789.7 L1751.8,807.1 L1753.5,827.1 L1756.8,823.3 L1759.8,822.8 L1761.8,814.6 L1763.5,811.6 L1765.2,812.1 L1767.2,818.3 L1770.2,819.6 L1771.5,834.6 L1772.2,850.0 L1774.7,849.0 L1777.2,847.5 L1779.0,847.0 L1781.5,850.8 L1783.5,859.5 L1785.5,873.2 L1787.7,875.7 L1790.2,880.7 L1792.7,882.5 L1795.9,884.0 L1797.7,889.5 L1799.2,896.9 L1802.2,898.2 L1803.9,889.5 L1806.4,884.5 L1809.7,878.2 L1812.9,876.5 L1813.9,862.0 L1815.1,850.8 L1817.6,850.0 L1820.4,850.8 L1821.6,839.6 L1822.9,824.6 L1825.9,822.6 L1828.9,820.8 L1831.6,819.1 L1834.1,819.1 L1835.1,852.0 L1836.1,885.7 L1838.4,899.4 L1839.6,896.9 L1840.8,877.0 L1842.6,863.3 L1844.6,857.5 L1847.1,863.3 L1848.3,877.0 L1850.1,894.4 L1852.1,914.4 L1853.8,931.9 L1855.1,936.4 L1857.1,935.6 L1859.6,935.1 L1862.8,940.6 L1865.8,940.6 L1866.5,924.4 L1867.5,899.4 L1869.5,889.5 L1871.5,879.5 L1873.3,864.5 L1875.8,854.5 L1877.0,839.6 L1878.3,814.6 L1879.0,802.1 L1881.5,799.6 L1884.0,800.1 L1885.0,789.7 L1886.3,774.7 L1887.5,771.7 L1890.2,769.7 L1892.5,770.2 L1894.5,774.7 L1897.0,780.9 L1898.2,787.2 L1899.5,812.1 L1900.7,834.6 L1902.5,844.5 L1904.5,850.8 L1906.5,855.8 L1908.2,867.0 L1910.2,879.5 L1912.0,896.9 L1913.2,908.9 L1916.4,908.9 L1918.2,901.9 L1919.9,894.4 L1921.9,890.7 L1923.9,892.4 L1925.7,899.4 L1928.2,903.2 L1929.4,904.4 L1930.7,889.5 L1931.9,869.5 L1934.9,869.0 L1936.9,857.0 L1939.4,844.5 L1941.4,827.1 L1942.4,802.1 L1943.1,783.4 L1945.6,784.7 L1948.6,784.7 L1949.4,774.7 L1950.6,764.7 L1953.1,761.7 L1955.6,760.5 L1958.1,764.7 L1959.9,764.7 L1961.9,764.2 L1962.6,799.6 L1963.6,835.8 L1965.6,839.6 L1968.8,840.8 L1971.8,843.3 L1973.8,852.0 L1975.6,869.5 L1976.8,890.7 L1979.3,896.9 L1981.8,903.2 L1984.3,903.2 L1985.6,900.7 L1987.3,906.9 L1989.3,915.6 L1990.5,921.9 L1993.0,921.4 L1994.3,914.4 L1995.0,894.4 L1996.3,875.7 L1998.8,867.0 L2001.8,858.3 L2003.5,844.5 L2004.8,822.1 L2005.5,799.6 L2006.8,785.9 L2009.3,785.2 L2012.3,784.7 L2013.0,769.7 L2014.3,751.0 L2016.7,749.2 L2019.7,747.7 L2021.2,754.7 L2023.0,761.0 L2025.5,757.2 L2026.2,777.2 L2027.2,799.6 L2028.0,809.1 L2030.5,809.6 L2033.0,810.4 L2036.0,807.6 L2038.0,812.1 L2040.4,820.8 L2042.9,827.1 L2046.2,832.6 L2049.2,835.3 L2051.7,838.3 L2054.2,840.8 L2057.2,840.8 L2058.7,845.8 L2059.9,849.5 L2062.9,849.0 L2065.4,847.0 L2067.1,850.8 L2068.4,852.0 L2069.6,840.8 L2071.6,839.6 L2073.6,844.0 L2075.4,849.0 L2077.9,844.5 L2080.4,838.3 L2082.9,834.1 L2086.1,829.6 L2089.1,829.6 L2090.3,837.1 L2091.6,841.5 L2094.6,842.0 L2097.8,845.0 L2100.3,849.5 L2102.8,857.0 L2104.6,864.5 L2106.6,868.2 L2109.1,869.5 L2111.6,865.7 L2114.1,864.5 L2116.0,865.2 L2117.5,869.5 L2119.0,870.0 L2119.7,865.2 L2121.7,865.7 L2124.2,867.0 L2126.7,869.5 L2129.2,872.0 L2132.2,870.0 L2133.5,854.5 L2135.9,847.0 L2138.4,840.8 L2140.2,835.8 L2141.4,819.6 L2143.4,818.3 L2145.9,818.3 L2148.4,820.1 L2150.9,822.6 L2153.9,824.1 L2155.2,844.5 L2156.4,859.5 L2157.7,869.5 L2159.7,869.5 L2161.6,867.0 L2163.6,866.5 L2165.9,873.2 L2167.1,884.5 L2168.6,901.9 L2170.9,903.2 L2173.9,905.7 L2176.6,908.9 L2179.6,911.9 L2180.9,918.1 L2182.6,923.1 L2184.6,924.4 L2185.6,906.9 L2186.6,887.0 L2189.1,882.0 L2192.1,876.5 L2195.1,870.7 L2196.1,854.5 L2196.8,829.6 L2197.6,808.4 L2199.6,804.1 L2202.6,800.9 L2203.8,794.6 L2204.6,779.7 L2205.6,765.2 L2207.8,764.2 L2211.5,764.2 L2214.0,759.7 L2215.8,756.0 L2217.3,753.5 L2218.0,777.2 L2219.0,809.6 L2220.8,813.4 L2223.3,814.1 L2225.3,809.6 L2227.0,802.1 L2228.8,800.1 L2230.8,800.9 L2232.0,808.4 L2234.5,814.1 L2237.0,818.3 L2239.5,821.6 L2243.2,822.6 L2245.7,827.1 L2248.2,832.1 L2249.5,834.1 L2250.2,822.1 L2251.2,810.9 L2253.2,812.1 L2255.0,814.1 L2257.5,813.4 L2259.5,810.9 L2260.4,789.7 L2261.2,759.7 L2261.9,738.5 L2264.4,739.8 L2267.4,739.0 L2268.2,724.8 L2269.4,704.8 L2271.4,701.1 L2274.4,700.3 L2276.2,704.8 L2278.2,708.6 L2279.4,704.3 L2281.2,702.8 L2281.9,727.3 L2282.7,754.7 L2283.7,777.7 L2285.6,774.7 L2288.1,769.7 L2290.6,766.4 L2292.4,767.2 L2293.9,769.7 L2295.6,784.7 L2298.1,794.6 L2299.9,802.1 L2301.4,814.6 L2303.1,824.6 L2305.6,827.1 L2307.6,827.1 L2309.4,840.8 L2311.1,848.3 L2313.1,849.5 L2314.3,834.6 L2315.3,817.1 L2318.1,814.1 L2321.1,808.4 L2323.1,804.1 L2324.3,777.2 L2325.1,744.7 L2326.1,729.8 L2328.8,724.8 L2331.3,722.3 L2332.6,709.8 L2333.6,701.1 L2336.3,698.6 L2338.8,701.1 L2341.3,706.1 L2344.3,709.3 L2345.3,739.8 L2346.0,779.7 L2346.8,810.9 L2349.3,815.8 L2351.8,817.6 L2353.5,814.6 L2355.0,809.6 L2356.3,817.1 L2358.0,824.6 L2359.3,832.1 L2361.2,834.1 L2363.7,832.1 L2366.0,827.6 L2368.0,822.1 L2370.5,813.4 L2373.7,804.6 L2376.7,792.1 L2378.2,779.7 L2379.2,773.4 L2381.7,777.2 L2384.2,777.2 L2386.2,770.9 L2387.2,754.7 L2388.2,729.8 L2389.2,709.3 L2391.7,704.8 L2394.2,699.8 L2395.4,689.9 L2396.7,674.9 L2397.9,670.4 L2400.4,671.1 L2402.9,677.4 L2404.2,687.4 L2405.4,694.8 L2408.4,697.3 L2409.2,714.8 L2410.4,739.8 L2411.6,754.7 L2413.6,763.5 L2416.6,769.7 L2418.6,777.2 L2420.4,789.7 L2421.6,804.6 L2422.9,822.1 L2424.1,838.3 L2427.1,839.6 L2428.6,849.5 L2431.1,857.0 L2433.6,862.0 L2436.1,864.0 L2437.8,867.0 L2439.6,859.5 L2440.8,844.5 L2442.1,829.6 L2444.1,822.1 L2446.6,820.1" fill="none" stroke="#0072bd" stroke-width="3.8" stroke-linejoin="round" stroke-linecap="butt" shape-rendering="crispEdges" clip-path="url(#c1)"/>
<text x="246.5" y="653.7" font-size="66.5" fill="#262626" stroke="#262626" text-anchor="end">280</text>
<text x="246.5" y="829.7" font-size="66.5" fill="#262626" stroke="#262626" text-anchor="end">270</text>
<text x="246.5" y="1005.7" font-size="66.5" fill="#262626" stroke="#262626" text-anchor="end">260</text>
<text transform="translate(103,852.4) rotate(-90)" font-size="72.8" fill="#262626" stroke="#262626" text-anchor="middle">Tm(K)</text>
<text x="838.8" y="723.9" font-size="72.8" fill="#262626" stroke="#262626">CHAN</text>
<g fill="#262626" shape-rendering="crispEdges">
<rect x="266" y="1194" width="2177" height="4"/>
<rect x="266" y="1662" width="2177" height="3"/>
<rect x="266" y="1194" width="4" height="471"/>
<rect x="2440" y="1194" width="3" height="471"/>
</g>
<g fill="#262626"><rect x="393.93" y="1194" width="3.47" height="25"/><rect x="393.93" y="1640" width="3.47" height="25"/><rect x="521.60" y="1194" width="3.47" height="25"/><rect x="521.60" y="1640" width="3.47" height="25"/><rect x="649.27" y="1194" width="3.47" height="25"/><rect x="649.27" y="1640" width="3.47" height="25"/><rect x="776.93" y="1194" width="3.47" height="25"/><rect x="776.93" y="1640" width="3.47" height="25"/><rect x="904.60" y="1194" width="3.47" height="25"/><rect x="904.60" y="1640" width="3.47" height="25"/><rect x="1032.27" y="1194" width="3.47" height="25"/><rect x="1032.27" y="1640" width="3.47" height="25"/><rect x="1159.93" y="1194" width="3.47" height="25"/><rect x="1159.93" y="1640" width="3.47" height="25"/><rect x="1287.60" y="1194" width="3.47" height="25"/><rect x="1287.60" y="1640" width="3.47" height="25"/><rect x="1415.27" y="1194" width="3.47" height="25"/><rect x="1415.27" y="1640" width="3.47" height="25"/><rect x="1542.94" y="1194" width="3.47" height="25"/><rect x="1542.94" y="1640" width="3.47" height="25"/><rect x="1670.60" y="1194" width="3.47" height="25"/><rect x="1670.60" y="1640" width="3.47" height="25"/><rect x="1798.27" y="1194" width="3.47" height="25"/><rect x="1798.27" y="1640" width="3.47" height="25"/><rect x="1925.94" y="1194" width="3.47" height="25"/><rect x="1925.94" y="1640" width="3.47" height="25"/><rect x="2053.60" y="1194" width="3.47" height="25"/><rect x="2053.60" y="1640" width="3.47" height="25"/><rect x="2181.27" y="1194" width="3.47" height="25"/><rect x="2181.27" y="1640" width="3.47" height="25"/><rect x="2308.94" y="1194" width="3.47" height="25"/><rect x="2308.94" y="1640" width="3.47" height="25"/><rect x="2436.60" y="1194" width="3.47" height="25"/><rect x="2436.60" y="1640" width="3.47" height="25"/><rect x="266" y="1428.07" width="25" height="3.47"/><rect x="2418" y="1428.07" width="25" height="3.47"/></g>
<clipPath id="c2"><rect x="266" y="1194" width="2177" height="471"/></clipPath>
<path d="M270.5,1546.8 L272.5,1539.8 L274.0,1532.3 L275.0,1507.4 L276.2,1474.9 L277.0,1437.5 L278.0,1387.6 L278.7,1350.2 L279.2,1329.7 L281.9,1326.5 L284.4,1324.0 L285.2,1292.8 L285.9,1260.4 L286.9,1239.1 L289.4,1241.6 L291.2,1244.9 L292.9,1244.1 L294.2,1235.4 L295.4,1230.9 L297.4,1232.9 L298.4,1237.9 L299.2,1270.3 L299.9,1300.3 L300.9,1332.7 L302.4,1357.7 L304.2,1382.6 L306.1,1405.1 L308.1,1422.5 L309.4,1442.5 L309.9,1474.9 L310.4,1504.9 L311.4,1512.4 L312.9,1504.9 L314.4,1493.6 L316.1,1486.2 L318.6,1485.7 L321.1,1485.4 L322.9,1481.2 L324.4,1480.4 L325.4,1494.9 L326.9,1511.6 L328.6,1509.9 L330.3,1506.1 L331.6,1497.4 L332.8,1494.9 L334.3,1502.4 L335.3,1503.6 L336.3,1489.9 L337.8,1477.4 L339.3,1457.5 L340.6,1432.5 L341.3,1387.6 L342.1,1337.7 L342.8,1310.3 L344.8,1309.0 L347.3,1312.8 L348.6,1307.8 L349.3,1270.3 L350.3,1237.9 L352.3,1239.1 L354.8,1240.9 L356.8,1237.9 L358.0,1232.9 L359.8,1231.7 L361.8,1234.2 L362.5,1270.3 L363.3,1307.8 L364.3,1342.7 L366.0,1360.2 L367.8,1377.6 L369.0,1386.4 L371.0,1390.1 L372.3,1402.6 L374.0,1423.8 L375.3,1427.0 L377.8,1427.5 L379.3,1437.5 L381.0,1446.2 L382.7,1450.0 L384.2,1447.5 L386.0,1443.7 L387.7,1448.7 L389.2,1460.0 L391.0,1469.9 L393.5,1474.4 L396.0,1476.9 L397.7,1469.9 L399.2,1460.0 L401.0,1450.0 L402.7,1446.2 L404.0,1455.5 L404.7,1425.0 L405.4,1367.6 L406.4,1355.2 L407.2,1354.7 L408.2,1367.6 L409.2,1365.1 L410.4,1371.4 L411.9,1377.6 L412.9,1357.7 L413.9,1335.2 L415.9,1337.7 L417.7,1338.9 L419.2,1344.7 L420.9,1341.4 L422.7,1337.7 L425.4,1337.7 L426.4,1362.7 L427.2,1387.6 L427.9,1406.3 L430.1,1407.6 L432.6,1403.1 L434.1,1399.6 L435.9,1398.8 L437.6,1410.1 L439.1,1420.0 L440.9,1431.3 L442.1,1427.5 L443.9,1423.8 L445.1,1437.5 L446.4,1453.7 L448.4,1451.2 L450.4,1447.5 L452.6,1448.7 L453.9,1469.9 L454.6,1482.4 L456.6,1488.6 L458.3,1497.4 L459.6,1505.4 L461.6,1507.4 L463.3,1506.9 L465.1,1497.4 L467.1,1479.9 L468.3,1462.5 L469.1,1427.5 L469.8,1377.6 L470.6,1352.7 L473.3,1347.7 L476.3,1345.7 L477.1,1312.8 L477.8,1272.1 L480.3,1271.6 L483.8,1271.6 L485.8,1267.8 L487.0,1266.1 L489.0,1270.3 L490.0,1287.8 L491.3,1312.8 L492.3,1337.7 L494.5,1351.4 L497.5,1358.9 L500.5,1364.6 L502.0,1377.6 L503.3,1392.6 L504.5,1412.6 L505.7,1400.1 L507.5,1397.1 L509.5,1400.1 L512.0,1405.1 L515.7,1409.6 L517.5,1422.5 L518.7,1428.8 L521.2,1431.3 L522.5,1450.0 L523.5,1471.2 L526.5,1469.4 L529.0,1466.9 L531.4,1472.4 L533.9,1479.4 L536.4,1482.9 L539.4,1482.9 L540.7,1474.9 L541.9,1466.2 L544.4,1463.7 L546.9,1460.0 L549.4,1455.0 L551.2,1454.5 L552.7,1462.5 L554.4,1477.4 L555.6,1485.4 L558.1,1486.7 L560.6,1483.7 L563.6,1481.2 L565.6,1486.2 L568.1,1491.1 L570.6,1493.6 L573.1,1493.6 L575.1,1489.9 L576.9,1485.4 L579.4,1484.4 L581.8,1487.4 L584.8,1489.1 L586.3,1494.9 L587.6,1499.4 L590.6,1499.4 L593.6,1497.4 L596.1,1496.9 L597.3,1487.4 L598.8,1483.7 L600.6,1488.6 L602.6,1492.9 L604.3,1482.4 L605.5,1472.4 L608.8,1472.4 L611.8,1472.4 L614.8,1475.4 L617.3,1478.7 L618.3,1497.4 L619.3,1511.6 L621.3,1508.6 L623.8,1503.6 L626.0,1501.1 L628.0,1501.1 L630.5,1507.4 L633.0,1514.3 L636.2,1514.8 L639.2,1514.3 L641.2,1513.6 L643.7,1518.6 L646.2,1525.3 L649.2,1526.1 L651.0,1532.3 L653.5,1533.6 L655.9,1534.8 L657.9,1539.8 L659.2,1544.8 L660.4,1536.1 L661.7,1524.3 L664.2,1523.6 L666.2,1524.8 L667.9,1526.8 L669.2,1514.8 L670.9,1507.4 L672.9,1502.9 L675.4,1502.4 L678.4,1504.4 L681.1,1509.9 L682.1,1522.3 L683.1,1531.1 L684.6,1524.8 L686.1,1517.3 L688.6,1516.1 L691.1,1512.4 L693.6,1516.8 L697.1,1520.3 L700.4,1519.3 L704.1,1519.3 L707.1,1521.1 L709.1,1527.3 L712.8,1528.6 L714.8,1534.3 L717.8,1534.3 L719.6,1529.8 L721.6,1527.3 L723.6,1526.1 L724.8,1507.4 L725.8,1497.4 L727.8,1493.6 L731.5,1492.4 L732.8,1484.9 L734.0,1482.4 L735.0,1489.9 L736.2,1497.4 L738.2,1498.6 L740.0,1499.9 L741.2,1506.1 L742.4,1509.9 L743.7,1502.4 L744.9,1501.1 L745.7,1519.8 L746.9,1537.3 L748.7,1547.3 L750.4,1554.8 L751.9,1564.7 L754.4,1564.7 L756.7,1561.5 L759.9,1562.3 L762.9,1563.5 L766.1,1563.5 L767.9,1572.2 L770.4,1577.7 L772.9,1579.7 L774.9,1579.2 L777.4,1573.5 L780.4,1567.2 L783.6,1561.0 L786.9,1554.8 L789.1,1553.0 L791.1,1554.3 L793.6,1556.5 L797.3,1556.5 L799.8,1553.5 L802.8,1552.3 L805.3,1548.5 L808.1,1547.3 L809.8,1551.0 L812.3,1556.8 L814.8,1563.5 L816.8,1574.7 L819.3,1582.2 L821.8,1588.4 L824.0,1594.2 L827.3,1594.7 L830.3,1596.7 L832.8,1595.9 L834.8,1591.7 L836.8,1593.4 L839.3,1594.7 L841.0,1594.2 L843.0,1600.9 L845.2,1597.2 L848.5,1594.7 L851.0,1589.7 L851.7,1572.2 L852.7,1537.3 L853.7,1509.9 L856.0,1507.4 L859.2,1504.4 L860.0,1474.9 L861.0,1447.5 L863.5,1445.0 L866.7,1442.5 L867.7,1430.0 L868.9,1417.5 L870.2,1415.5 L872.2,1420.0 L873.4,1437.5 L874.2,1462.5 L874.9,1473.7 L875.9,1457.5 L877.2,1446.2 L878.4,1448.7 L879.7,1464.9 L881.7,1484.9 L883.4,1504.9 L885.4,1524.8 L887.2,1547.3 L888.4,1567.2 L890.4,1582.2 L891.6,1597.2 L892.9,1607.2 L895.4,1607.7 L898.9,1607.7 L900.1,1614.6 L901.6,1617.6 L904.1,1616.6 L905.4,1609.7 L906.6,1599.7 L909.1,1593.4 L912.1,1587.2 L913.9,1579.7 L915.3,1562.3 L916.1,1512.4 L916.8,1456.2 L919.1,1455.0 L922.8,1454.5 L923.6,1437.5 L924.6,1406.3 L927.1,1405.1 L929.6,1402.6 L931.6,1397.6 L932.8,1395.1 L934.6,1395.6 L936.3,1397.1 L937.1,1412.6 L938.3,1430.0 L940.3,1440.0 L942.5,1447.5 L944.5,1455.0 L946.5,1462.5 L948.3,1479.9 L950.3,1494.9 L952.0,1502.9 L953.8,1502.4 L955.3,1502.9 L956.5,1524.8 L958.3,1524.8 L960.3,1523.6 L962.0,1529.8 L963.8,1542.3 L964.5,1551.0 L966.5,1548.5 L968.2,1549.3 L970.2,1557.3 L973.2,1556.0 L975.7,1556.0 L977.5,1547.3 L978.7,1532.3 L979.5,1487.4 L980.2,1437.5 L981.2,1410.1 L983.2,1402.6 L986.5,1394.6 L987.5,1362.7 L988.7,1330.2 L991.4,1326.5 L994.4,1325.2 L995.9,1317.7 L996.9,1310.3 L998.7,1309.5 L1000.7,1309.5 L1001.4,1337.7 L1002.4,1362.7 L1003.7,1387.6 L1004.9,1405.1 L1006.9,1402.6 L1008.2,1400.1 L1009.4,1412.6 L1011.4,1430.0 L1013.2,1450.0 L1015.6,1477.4 L1018.1,1489.9 L1019.4,1497.4 L1021.1,1522.3 L1023.1,1524.8 L1026.4,1525.3 L1027.4,1534.8 L1028.9,1544.8 L1031.4,1542.3 L1033.1,1536.1 L1035.1,1532.3 L1036.9,1536.8 L1038.6,1523.6 L1040.6,1509.9 L1042.6,1499.9 L1043.6,1437.5 L1044.6,1387.6 L1046.3,1391.3 L1048.6,1397.6 L1050.6,1397.1 L1051.8,1367.6 L1052.8,1342.7 L1055.6,1340.2 L1058.8,1338.9 L1061.1,1336.5 L1063.1,1341.4 L1064.3,1347.7 L1065.5,1367.6 L1067.3,1382.6 L1069.8,1397.6 L1071.8,1410.1 L1074.3,1420.0 L1076.8,1430.0 L1078.5,1452.5 L1079.8,1467.4 L1082.3,1473.7 L1084.3,1487.4 L1086.3,1499.9 L1088.5,1506.9 L1090.5,1504.9 L1091.7,1514.8 L1093.0,1518.6 L1094.2,1509.9 L1096.2,1504.9 L1099.2,1502.4 L1101.2,1497.4 L1103.0,1484.9 L1104.2,1477.4 L1106.7,1469.9 L1107.7,1437.5 L1108.5,1395.1 L1109.2,1369.6 L1111.7,1370.1 L1114.2,1372.1 L1115.2,1350.2 L1116.2,1315.2 L1118.7,1315.7 L1120.4,1319.0 L1122.2,1314.0 L1124.2,1311.5 L1127.2,1310.8 L1128.2,1327.7 L1129.2,1342.7 L1129.9,1358.2 L1132.9,1359.7 L1136.2,1362.7 L1138.4,1364.6 L1139.9,1382.6 L1141.6,1400.1 L1143.4,1410.1 L1145.9,1416.3 L1147.4,1427.5 L1148.6,1436.3 L1150.9,1442.5 L1154.1,1450.0 L1156.1,1462.5 L1157.9,1469.9 L1159.6,1471.9 L1160.9,1482.4 L1162.1,1492.4 L1164.9,1497.9 L1167.1,1493.6 L1170.3,1489.9 L1171.6,1462.5 L1172.3,1421.3 L1174.1,1422.5 L1176.6,1431.3 L1178.3,1432.5 L1179.3,1407.6 L1180.3,1387.1 L1182.8,1386.4 L1185.3,1385.1 L1186.6,1380.1 L1188.3,1373.9 L1191.5,1373.1 L1192.5,1392.6 L1193.5,1416.3 L1196.2,1417.5 L1198.7,1423.8 L1201.2,1431.3 L1202.4,1437.5 L1203.7,1450.0 L1204.9,1467.4 L1206.7,1489.9 L1208.7,1487.4 L1210.4,1485.4 L1211.4,1494.9 L1212.4,1501.1 L1214.9,1500.6 L1216.9,1497.4 L1218.2,1496.1 L1219.4,1502.4 L1220.7,1509.1 L1222.4,1504.4 L1223.9,1502.9 L1224.9,1512.4 L1226.1,1518.6 L1228.6,1521.1 L1231.1,1523.1 L1233.6,1519.3 L1234.4,1499.9 L1235.4,1462.5 L1236.4,1437.5 L1239.4,1432.5 L1241.6,1425.0 L1242.6,1400.1 L1243.9,1379.6 L1246.9,1378.1 L1248.6,1387.6 L1251.1,1395.1 L1254.8,1401.3 L1256.1,1420.0 L1257.3,1446.2 L1261.1,1443.7 L1263.6,1447.5 L1266.8,1451.2 L1268.6,1457.5 L1270.6,1469.9 L1273.6,1468.7 L1274.8,1469.4 L1276.0,1481.2 L1278.5,1481.2 L1280.3,1476.9 L1282.3,1476.2 L1284.0,1483.7 L1286.8,1485.4 L1289.8,1488.1 L1292.3,1492.4 L1294.8,1491.1 L1296.0,1489.9 L1297.8,1497.4 L1298.5,1462.5 L1299.5,1430.0 L1301.5,1422.5 L1303.5,1417.5 L1306.0,1413.8 L1306.7,1387.6 L1307.7,1371.4 L1309.7,1366.4 L1312.2,1365.1 L1314.7,1365.1 L1316.7,1363.9 L1319.2,1367.6 L1320.2,1387.6 L1321.2,1405.1 L1322.2,1422.5 L1324.0,1437.5 L1325.9,1450.0 L1327.7,1456.2 L1329.7,1458.7 L1330.9,1467.4 L1332.7,1478.7 L1334.2,1487.4 L1335.2,1492.9 L1336.7,1484.9 L1337.9,1482.4 L1339.7,1484.9 L1342.2,1483.7 L1344.7,1480.4 L1346.2,1480.4 L1347.7,1487.4 L1349.2,1491.1 L1351.1,1492.4 L1352.6,1502.4 L1353.9,1512.4 L1356.6,1512.4 L1358.4,1502.4 L1360.1,1492.4 L1362.1,1483.7 L1362.9,1450.0 L1363.9,1425.0 L1366.6,1423.0 L1369.6,1422.0 L1370.6,1395.1 L1371.6,1370.1 L1374.1,1371.4 L1376.6,1373.9 L1378.3,1371.4 L1379.6,1362.7 L1380.8,1360.2 L1383.3,1363.9 L1384.1,1382.6 L1385.3,1407.6 L1387.1,1415.0 L1389.6,1422.5 L1391.6,1427.5 L1394.1,1428.8 L1395.3,1442.5 L1397.1,1457.5 L1398.3,1468.7 L1400.8,1463.7 L1402.5,1464.9 L1404.0,1472.4 L1406.5,1476.9 L1408.3,1477.4 L1410.0,1475.4 L1411.3,1482.4 L1412.5,1487.4 L1414.5,1486.2 L1417.5,1481.9 L1420.0,1477.4 L1423.3,1477.4 L1425.0,1482.4 L1426.5,1469.9 L1427.7,1462.5 L1429.5,1462.0 L1431.2,1464.4 L1433.7,1461.2 L1435.0,1437.5 L1436.0,1422.5 L1438.2,1422.5 L1440.0,1423.0 L1441.5,1428.0 L1443.2,1423.8 L1445.0,1420.0 L1447.0,1419.3 L1448.2,1437.5 L1449.5,1452.0 L1450.7,1447.5 L1452.4,1442.5 L1454.4,1450.0 L1456.4,1462.5 L1458.9,1465.4 L1461.9,1468.2 L1464.4,1465.4 L1467.4,1465.4 L1470.7,1469.9 L1473.7,1476.2 L1475.1,1487.4 L1476.9,1497.4 L1479.4,1506.1 L1481.1,1514.8 L1483.1,1517.3 L1485.6,1516.1 L1488.1,1509.9 L1489.4,1499.9 L1490.6,1474.9 L1491.4,1432.5 L1492.4,1407.6 L1494.4,1397.6 L1497.4,1387.6 L1498.6,1350.2 L1499.9,1314.0 L1502.3,1311.5 L1505.6,1307.8 L1506.8,1292.8 L1508.1,1280.3 L1510.6,1281.6 L1511.3,1307.8 L1512.3,1337.7 L1513.6,1360.2 L1515.6,1375.1 L1518.1,1390.1 L1521.1,1405.1 L1522.6,1422.5 L1524.3,1445.0 L1526.0,1463.7 L1528.5,1469.9 L1530.5,1482.4 L1532.3,1489.9 L1534.3,1492.9 L1536.8,1488.6 L1538.0,1497.4 L1539.8,1506.9 L1541.8,1502.9 L1544.3,1501.9 L1547.3,1501.9 L1549.8,1498.6 L1551.2,1492.4 L1552.5,1474.9 L1553.7,1450.0 L1554.5,1395.1 L1555.5,1366.4 L1558.0,1357.7 L1561.0,1350.2 L1562.2,1325.2 L1563.7,1302.8 L1566.0,1287.8 L1568.7,1284.1 L1571.2,1286.6 L1572.5,1292.8 L1574.2,1307.8 L1575.9,1330.2 L1577.2,1357.7 L1579.2,1362.7 L1581.2,1360.2 L1582.2,1347.7 L1584.2,1339.7 L1585.4,1340.2 L1586.7,1350.2 L1588.4,1372.6 L1590.4,1400.1 L1592.2,1420.0 L1594.2,1440.0 L1596.2,1456.2 L1598.4,1463.7 L1600.4,1468.7 L1602.1,1479.9 L1604.1,1491.1 L1606.1,1493.6 L1607.4,1484.9 L1609.1,1478.7 L1611.6,1474.9 L1614.1,1471.2 L1616.1,1457.5 L1617.1,1437.5 L1618.1,1387.6 L1618.9,1327.7 L1619.9,1314.0 L1622.9,1311.5 L1625.3,1311.5 L1626.1,1262.9 L1627.1,1221.7 L1629.1,1220.9 L1631.1,1225.4 L1633.1,1226.7 L1634.1,1217.9 L1635.3,1210.5 L1637.1,1213.0 L1638.3,1217.9 L1639.1,1245.4 L1640.1,1277.8 L1641.1,1302.8 L1643.6,1315.2 L1645.8,1330.2 L1648.6,1350.2 L1651.0,1362.7 L1652.8,1377.6 L1654.0,1388.8 L1656.2,1388.1 L1658.0,1387.6 L1658.7,1400.1 L1659.5,1408.8 L1661.9,1408.8 L1663.7,1403.8 L1664.9,1398.8 L1667.4,1397.6 L1671.2,1397.6 L1674.9,1397.6 L1677.9,1393.1 L1681.2,1388.1 L1681.9,1362.7 L1682.7,1337.7 L1684.4,1338.9 L1685.6,1346.4 L1686.9,1337.7 L1688.6,1331.5 L1689.4,1300.3 L1690.4,1271.6 L1692.9,1265.3 L1696.1,1257.9 L1697.4,1245.4 L1698.6,1232.9 L1699.9,1231.7 L1701.9,1234.2 L1702.9,1255.4 L1703.6,1282.8 L1704.9,1305.3 L1706.9,1327.7 L1709.1,1342.7 L1711.1,1357.7 L1712.8,1377.6 L1714.3,1397.6 L1716.1,1417.5 L1717.3,1432.5 L1719.3,1442.5 L1721.1,1452.5 L1722.3,1462.5 L1724.8,1462.5 L1727.8,1462.0 L1729.3,1472.4 L1731.1,1481.2 L1732.8,1474.9 L1735.3,1464.9 L1737.8,1452.5 L1740.3,1440.0 L1742.3,1432.5 L1743.5,1412.6 L1744.8,1375.1 L1745.5,1312.8 L1746.3,1265.3 L1747.8,1263.3 L1749.3,1270.3 L1750.3,1277.8 L1751.8,1284.1 L1753.0,1262.9 L1754.3,1236.7 L1756.0,1235.4 L1757.8,1244.1 L1759.8,1251.6 L1761.5,1246.6 L1762.2,1230.4 L1763.5,1228.4 L1765.2,1231.7 L1766.7,1235.4 L1767.7,1262.9 L1769.2,1287.8 L1771.0,1305.3 L1772.7,1327.7 L1774.7,1332.7 L1777.2,1336.5 L1779.2,1352.7 L1781.0,1367.6 L1782.7,1372.6 L1784.7,1365.6 L1785.9,1377.6 L1786.7,1387.6 L1789.2,1385.1 L1791.7,1383.9 L1792.7,1392.6 L1793.9,1410.1 L1794.7,1421.3 L1797.2,1423.0 L1799.7,1420.0 L1802.2,1413.8 L1804.7,1410.6 L1807.2,1412.6 L1808.4,1414.3 L1809.7,1392.6 L1810.9,1378.9 L1812.6,1380.1 L1814.1,1381.9 L1816.6,1377.6 L1817.9,1362.7 L1819.1,1342.7 L1820.9,1332.7 L1823.4,1325.2 L1825.9,1324.0 L1827.9,1325.2 L1830.1,1337.7 L1831.4,1360.2 L1832.1,1375.1 L1834.1,1374.6 L1836.6,1370.1 L1839.1,1365.6 L1840.8,1364.4 L1842.8,1368.9 L1844.6,1375.1 L1846.6,1379.6 L1849.1,1380.6 L1851.6,1383.9 L1854.6,1386.9 L1857.1,1387.6 L1858.3,1401.3 L1860.8,1407.1 L1862.5,1412.6 L1864.0,1417.5 L1867.0,1418.8 L1869.5,1421.3 L1872.0,1423.8 L1873.8,1412.6 L1876.3,1408.3 L1878.3,1407.6 L1880.8,1408.8 L1884.5,1408.8 L1887.0,1405.1 L1889.5,1398.8 L1892.0,1395.1 L1894.0,1393.8 L1895.2,1407.6 L1896.2,1414.5 L1898.7,1407.6 L1901.2,1403.1 L1904.5,1402.6 L1906.2,1407.6 L1908.2,1415.0 L1910.0,1418.0 L1912.4,1416.3 L1914.4,1421.3 L1916.9,1427.0 L1919.4,1427.0 L1921.4,1426.3 L1923.2,1433.8 L1924.9,1440.0 L1926.9,1436.3 L1928.7,1433.8 L1931.2,1438.7 L1933.7,1442.0 L1936.1,1445.0 L1937.4,1427.5 L1938.1,1414.5 L1940.6,1416.3 L1942.4,1422.5 L1943.9,1426.3 L1945.1,1417.5 L1946.4,1408.8 L1948.1,1407.6 L1950.6,1410.1 L1953.1,1416.3 L1955.1,1422.5 L1957.6,1421.3 L1958.6,1437.5 L1959.9,1453.7 L1961.8,1450.0 L1964.3,1445.0 L1966.8,1439.5 L1971.1,1438.7 L1973.1,1446.2 L1974.8,1447.5 L1976.8,1445.0 L1979.3,1449.5 L1982.3,1450.5 L1984.8,1450.0 L1985.8,1462.5 L1986.8,1469.9 L1989.3,1473.7 L1990.5,1482.4 L1991.8,1489.9 L1994.3,1489.4 L1996.8,1484.4 L1999.3,1483.7 L2000.5,1486.2 L2001.8,1499.9 L2004.3,1503.6 L2006.8,1506.9 L2008.0,1507.4 L2008.8,1487.4 L2010.0,1460.0 L2011.7,1452.0 L2013.5,1448.7 L2014.7,1462.5 L2016.0,1469.4 L2018.0,1461.2 L2021.0,1460.0 L2022.2,1469.9 L2023.5,1477.4 L2026.2,1482.4 L2029.2,1486.2 L2032.2,1486.2 L2035.4,1484.2 L2037.9,1484.4 L2040.4,1483.7 L2041.7,1491.1 L2044.2,1493.6 L2047.9,1497.4 L2049.7,1509.9 L2052.2,1518.6 L2054.2,1526.1 L2055.9,1530.3 L2057.2,1521.1 L2058.4,1517.3 L2060.4,1522.8 L2063.6,1520.3 L2064.6,1499.9 L2065.9,1467.4 L2067.9,1462.5 L2071.1,1457.0 L2072.4,1437.5 L2073.6,1417.5 L2076.1,1415.0 L2079.1,1414.5 L2082.1,1415.5 L2084.9,1417.5 L2086.1,1437.5 L2087.8,1461.2 L2090.3,1466.2 L2092.8,1478.7 L2096.6,1478.7 L2098.6,1487.4 L2100.8,1507.4 L2103.3,1514.8 L2105.3,1533.6 L2107.8,1539.8 L2110.3,1546.0 L2112.0,1552.3 L2114.0,1567.2 L2116.7,1571.0 L2119.2,1573.5 L2121.0,1567.2 L2123.5,1561.0 L2125.2,1559.8 L2126.7,1566.0 L2128.0,1566.7 L2128.7,1537.3 L2129.7,1501.1 L2132.2,1496.1 L2135.2,1489.9 L2136.4,1462.5 L2137.4,1435.0 L2140.4,1430.0 L2143.4,1422.5 L2144.7,1410.1 L2145.9,1405.1 L2147.7,1405.6 L2149.2,1407.6 L2150.2,1427.5 L2151.4,1447.5 L2153.4,1464.9 L2155.4,1479.9 L2157.6,1489.9 L2159.6,1499.9 L2161.4,1514.8 L2163.4,1534.8 L2164.6,1543.5 L2166.4,1537.3 L2167.6,1539.8 L2169.1,1549.8 L2172.1,1552.8 L2175.4,1556.5 L2176.6,1569.7 L2177.9,1581.7 L2180.8,1583.5 L2184.1,1584.2 L2186.6,1583.0 L2188.3,1569.7 L2190.1,1549.8 L2191.6,1529.8 L2192.6,1482.4 L2193.3,1437.5 L2194.1,1407.6 L2196.6,1405.6 L2199.6,1404.6 L2200.3,1375.1 L2201.1,1347.7 L2202.1,1332.7 L2204.6,1332.2 L2207.0,1329.7 L2208.0,1312.8 L2209.0,1302.3 L2210.8,1301.5 L2212.8,1302.3 L2213.5,1322.7 L2214.5,1347.7 L2216.3,1372.6 L2218.3,1395.1 L2220.8,1412.6 L2223.3,1427.5 L2225.3,1450.0 L2227.0,1469.9 L2228.3,1482.4 L2230.7,1489.9 L2232.5,1499.9 L2233.7,1507.4 L2235.7,1502.4 L2237.5,1497.4 L2239.0,1496.1 L2240.2,1507.4 L2241.5,1519.8 L2244.5,1519.8 L2245.7,1512.4 L2247.0,1503.6 L2250.0,1499.9 L2252.5,1494.9 L2254.0,1487.4 L2255.2,1469.9 L2256.2,1412.6 L2256.9,1357.7 L2257.9,1331.5 L2260.7,1324.7 L2262.7,1317.7 L2263.9,1287.8 L2264.9,1260.4 L2265.7,1246.6 L2268.2,1243.4 L2270.7,1240.4 L2271.9,1227.9 L2273.2,1218.4 L2275.2,1216.7 L2276.9,1217.9 L2277.7,1250.4 L2278.9,1292.8 L2280.6,1312.8 L2282.4,1332.7 L2284.4,1352.7 L2286.9,1372.6 L2289.4,1388.8 L2291.4,1405.1 L2293.1,1420.0 L2294.9,1435.0 L2296.4,1447.5 L2297.9,1454.2 L2299.4,1445.0 L2301.4,1435.0 L2303.1,1427.0 L2304.4,1435.0 L2305.6,1447.5 L2307.3,1445.0 L2308.8,1440.0 L2309.8,1427.5 L2311.3,1415.0 L2313.1,1406.3 L2315.6,1402.6 L2318.8,1401.3 L2319.8,1362.7 L2320.6,1317.7 L2321.6,1301.5 L2323.1,1305.3 L2324.8,1310.8 L2327.3,1311.5 L2328.1,1292.8 L2329.3,1266.6 L2331.3,1265.8 L2333.0,1267.8 L2334.8,1272.3 L2337.3,1272.8 L2339.3,1275.3 L2341.0,1280.3 L2341.8,1297.8 L2343.0,1317.7 L2344.8,1324.0 L2347.3,1325.2 L2349.8,1327.7 L2352.3,1332.0 L2354.3,1337.7 L2355.5,1350.2 L2357.2,1351.4 L2358.7,1347.7 L2360.5,1357.7 L2363.0,1367.6 L2365.5,1376.4 L2368.0,1386.4 L2370.5,1393.1 L2372.5,1393.8 L2373.7,1385.1 L2375.0,1381.4 L2376.7,1384.6 L2379.2,1386.4 L2381.7,1389.6 L2383.4,1392.1 L2384.2,1372.6 L2385.2,1357.7 L2386.7,1360.2 L2387.9,1367.6 L2390.4,1367.6 L2392.9,1362.7 L2396.2,1358.9 L2398.7,1355.7 L2401.7,1356.4 L2404.9,1357.2 L2405.9,1370.1 L2407.1,1383.1 L2409.1,1378.9 L2411.1,1372.1 L2413.6,1371.4 L2415.4,1371.4 L2417.1,1382.6 L2419.1,1391.3 L2421.6,1393.8 L2424.6,1395.1 L2426.6,1395.1 L2427.9,1387.6 L2429.6,1386.4 L2431.1,1388.1 L2432.1,1405.1 L2433.6,1426.3 L2436.1,1431.3 L2437.8,1428.8 L2439.6,1420.0 L2441.6,1412.6" fill="none" stroke="#0072bd" stroke-width="3.8" stroke-linejoin="round" stroke-linecap="butt" shape-rendering="crispEdges" clip-path="url(#c2)"/>
<text x="241.5" y="1220.2" font-size="66.5" fill="#262626" stroke="#262626" text-anchor="end">280</text>
<text x="241.5" y="1454.0" font-size="66.5" fill="#262626" stroke="#262626" text-anchor="end">270</text>
<text x="241.5" y="1687.7" font-size="66.5" fill="#262626" stroke="#262626" text-anchor="end">260</text>
<text transform="translate(99,1429.0) rotate(-90)" font-size="72.8" fill="#262626" stroke="#262626" text-anchor="middle">Tm(K)</text>
<text x="838.5" y="1280" font-size="72.8" fill="#000" stroke="#000">GSPL</text>
<g fill="#262626" shape-rendering="crispEdges">
<rect x="266" y="1774" width="2177" height="4"/>
<rect x="266" y="2218" width="2177" height="3"/>
<rect x="266" y="1774" width="4" height="447"/>
<rect x="2440" y="1774" width="3" height="447"/>
</g>
<g fill="#262626"><rect x="393.93" y="1774" width="3.47" height="25"/><rect x="393.93" y="2196" width="3.47" height="25"/><rect x="521.60" y="1774" width="3.47" height="25"/><rect x="521.60" y="2196" width="3.47" height="25"/><rect x="649.27" y="1774" width="3.47" height="25"/><rect x="649.27" y="2196" width="3.47" height="25"/><rect x="776.93" y="1774" width="3.47" height="25"/><rect x="776.93" y="2196" width="3.47" height="25"/><rect x="904.60" y="1774" width="3.47" height="25"/><rect x="904.60" y="2196" width="3.47" height="25"/><rect x="1032.27" y="1774" width="3.47" height="25"/><rect x="1032.27" y="2196" width="3.47" height="25"/><rect x="1159.93" y="1774" width="3.47" height="25"/><rect x="1159.93" y="2196" width="3.47" height="25"/><rect x="1287.60" y="1774" width="3.47" height="25"/><rect x="1287.60" y="2196" width="3.47" height="25"/><rect x="1415.27" y="1774" width="3.47" height="25"/><rect x="1415.27" y="2196" width="3.47" height="25"/><rect x="1542.94" y="1774" width="3.47" height="25"/><rect x="1542.94" y="2196" width="3.47" height="25"/><rect x="1670.60" y="1774" width="3.47" height="25"/><rect x="1670.60" y="2196" width="3.47" height="25"/><rect x="1798.27" y="1774" width="3.47" height="25"/><rect x="1798.27" y="2196" width="3.47" height="25"/><rect x="1925.94" y="1774" width="3.47" height="25"/><rect x="1925.94" y="2196" width="3.47" height="25"/><rect x="2053.60" y="1774" width="3.47" height="25"/><rect x="2053.60" y="2196" width="3.47" height="25"/><rect x="2181.27" y="1774" width="3.47" height="25"/><rect x="2181.27" y="2196" width="3.47" height="25"/><rect x="2308.94" y="1774" width="3.47" height="25"/><rect x="2308.94" y="2196" width="3.47" height="25"/><rect x="2436.60" y="1774" width="3.47" height="25"/><rect x="2436.60" y="2196" width="3.47" height="25"/><rect x="266" y="1864.67" width="25" height="3.47"/><rect x="2418" y="1864.67" width="25" height="3.47"/><rect x="266" y="2041.27" width="25" height="3.47"/><rect x="2418" y="2041.27" width="25" height="3.47"/></g>
<clipPath id="c3"><rect x="266" y="1774" width="2177" height="447"/></clipPath>
<path d="M270.5,2126.8 L272.5,2130.5 L273.7,2133.0 L275.0,2124.3 L276.2,2116.8 L277.5,2099.3 L278.2,2071.9 L279.0,2034.5 L280.0,1993.3 L281.9,1979.6 L283.7,1972.1 L284.9,1964.6 L285.7,1934.7 L286.4,1899.7 L287.2,1873.5 L289.4,1867.3 L291.9,1862.3 L293.7,1853.6 L294.9,1847.3 L296.9,1845.3 L298.4,1846.1 L299.2,1864.8 L300.4,1889.7 L301.9,1914.7 L302.9,1932.2 L304.2,1937.6 L306.1,1939.6 L308.1,1945.9 L309.4,1962.1 L310.4,1979.6 L311.6,1994.5 L313.1,2000.0 L315.4,1999.0 L317.4,2001.5 L319.9,2005.8 L321.9,2010.7 L324.4,2017.0 L325.6,2029.5 L326.9,2044.4 L327.9,2050.7 L330.3,2050.7 L331.8,2044.4 L333.1,2046.9 L334.8,2056.9 L336.8,2051.9 L338.6,2044.4 L340.3,2036.9 L341.3,2009.5 L342.3,1979.6 L343.3,1959.6 L345.3,1953.4 L348.1,1949.1 L349.1,1922.2 L350.3,1889.2 L353.6,1884.8 L356.8,1879.8 L359.3,1877.3 L361.8,1876.8 L362.8,1899.7 L363.8,1919.7 L364.8,1932.2 L367.3,1935.9 L368.5,1947.1 L369.8,1957.1 L372.3,1959.6 L373.5,1972.1 L375.3,1989.5 L376.5,2004.5 L377.8,2018.2 L380.2,2023.2 L381.7,2034.5 L383.0,2046.9 L385.2,2050.7 L387.2,2054.4 L388.5,2059.4 L389.7,2074.4 L391.0,2088.1 L393.5,2090.6 L396.0,2088.8 L398.0,2081.9 L399.2,2074.9 L401.7,2073.1 L403.0,2084.4 L404.2,2096.3 L405.2,2059.4 L406.2,2022.0 L407.2,2009.5 L409.7,2005.8 L411.7,1999.5 L412.9,1984.6 L414.2,1957.1 L415.2,1942.1 L417.2,1933.4 L419.7,1929.7 L420.9,1919.7 L422.2,1907.2 L423.9,1899.7 L425.4,1897.2 L426.4,1909.7 L427.7,1934.7 L429.2,1942.1 L431.4,1944.6 L433.9,1944.1 L435.9,1943.4 L437.1,1957.1 L439.1,1974.6 L440.9,1989.5 L442.6,2002.0 L443.9,2014.5 L445.1,2034.5 L446.4,2054.4 L448.4,2053.2 L450.4,2048.2 L452.1,2046.9 L453.1,2064.4 L454.1,2081.4 L455.8,2076.9 L457.6,2076.4 L458.6,2081.9 L460.1,2090.6 L463.3,2093.1 L465.3,2096.8 L467.1,2103.1 L468.3,2103.1 L469.1,2084.4 L469.8,2034.5 L470.6,2014.5 L473.3,2009.5 L475.8,2004.5 L477.1,1982.1 L478.3,1944.6 L480.8,1938.4 L483.3,1929.7 L485.8,1920.9 L487.5,1918.9 L489.5,1918.4 L490.8,1934.7 L492.0,1945.9 L494.0,1942.1 L497.0,1943.4 L500.8,1945.9 L502.0,1959.6 L503.8,1974.6 L505.7,1979.6 L508.2,1983.3 L509.5,1997.0 L510.7,2007.0 L513.2,2012.0 L516.2,2014.5 L518.2,2027.0 L521.2,2033.2 L523.2,2048.2 L525.7,2056.9 L529.0,2060.6 L531.4,2065.6 L532.7,2055.7 L533.9,2044.4 L536.4,2045.7 L538.9,2051.4 L540.2,2051.4 L541.4,2039.4 L542.4,2034.5 L544.4,2035.7 L546.9,2040.7 L548.2,2043.2 L550.7,2039.9 L553.2,2039.4 L555.6,2044.4 L557.4,2041.9 L559.9,2034.5 L562.4,2029.0 L563.9,2028.2 L565.6,2038.2 L568.1,2044.4 L570.6,2048.2 L573.9,2056.4 L576.9,2053.2 L579.4,2050.7 L581.3,2058.2 L583.1,2060.6 L585.1,2060.6 L586.8,2069.4 L589.3,2075.6 L591.3,2084.4 L593.1,2089.8 L595.6,2081.9 L596.8,2054.4 L598.1,2030.7 L600.6,2032.0 L603.1,2034.0 L604.3,2014.5 L605.5,1992.0 L608.8,1990.8 L611.8,1983.3 L613.8,1978.3 L616.8,1980.8 L618.0,1997.0 L619.3,2005.8 L621.8,2008.3 L624.8,2010.7 L627.3,2014.5 L628.8,2027.0 L630.5,2038.2 L633.0,2043.2 L635.5,2044.4 L637.5,2050.7 L640.5,2050.7 L643.0,2048.2 L645.5,2054.4 L648.0,2056.9 L650.5,2060.6 L653.0,2062.4 L655.4,2061.9 L657.9,2061.4 L659.2,2064.9 L660.4,2046.9 L661.7,2029.0 L664.2,2025.7 L667.2,2022.0 L668.4,2009.5 L669.7,1997.5 L672.9,1997.5 L675.4,1997.0 L677.9,1995.3 L680.4,1997.0 L681.6,2014.5 L682.9,2034.5 L684.6,2040.7 L687.1,2046.4 L689.6,2048.2 L692.1,2048.2 L693.6,2059.4 L695.4,2074.4 L696.6,2077.4 L699.1,2076.4 L701.6,2080.1 L704.1,2079.4 L707.1,2078.9 L709.6,2084.4 L712.1,2080.6 L715.3,2079.4 L717.8,2076.9 L720.3,2083.9 L722.8,2074.9 L725.8,2066.9 L728.3,2074.4 L731.5,2084.4 L732.8,2091.8 L734.0,2106.8 L736.2,2106.8 L738.2,2108.1 L739.5,2111.8 L741.2,2109.3 L741.9,2117.5 L743.2,2109.3 L744.2,2105.6 L745.7,2112.3 L747.9,2111.8 L749.9,2108.1 L752.4,2103.8 L755.4,2101.8 L757.9,2106.8 L760.4,2113.0 L762.9,2119.3 L764.9,2123.8 L767.9,2124.3 L769.9,2120.5 L771.9,2118.8 L774.4,2121.3 L777.4,2124.3 L779.9,2124.3 L782.4,2123.0 L785.4,2124.8 L787.4,2126.3 L789.1,2121.8 L791.8,2117.3 L794.3,2113.0 L796.8,2111.0 L798.6,2111.8 L801.1,2114.3 L803.6,2117.3 L805.3,2123.0 L807.8,2131.8 L810.3,2141.7 L812.8,2141.7 L814.8,2140.5 L817.8,2141.7 L821.0,2141.7 L822.8,2144.2 L826.0,2144.2 L828.5,2145.5 L831.8,2146.2 L835.3,2149.2 L836.5,2159.2 L837.8,2165.4 L840.2,2165.4 L841.7,2174.2 L843.0,2184.2 L845.2,2186.6 L847.7,2186.6 L850.2,2184.2 L851.5,2180.4 L852.2,2159.2 L853.2,2129.3 L854.2,2111.3 L856.7,2109.8 L859.2,2106.8 L860.0,2079.4 L861.0,2050.7 L863.5,2046.4 L865.9,2041.9 L867.2,2032.0 L868.4,2014.5 L870.2,2010.7 L872.2,2010.2 L872.9,2029.5 L874.2,2049.4 L875.9,2058.2 L877.2,2063.1 L879.7,2063.1 L881.7,2064.4 L883.4,2069.4 L884.7,2081.9 L886.4,2099.3 L887.9,2113.0 L889.2,2119.3 L891.1,2121.3 L892.1,2131.8 L893.4,2141.2 L895.9,2139.7 L898.4,2139.2 L899.6,2140.5 L900.9,2149.2 L902.6,2159.2 L903.9,2162.2 L905.1,2154.2 L906.6,2148.0 L908.4,2149.2 L910.1,2154.2 L912.1,2157.2 L913.9,2149.2 L915.3,2134.3 L916.1,2091.8 L917.1,2056.9 L919.6,2050.7 L923.3,2046.9 L924.1,2022.0 L925.1,1994.5 L927.6,1992.0 L930.1,1988.3 L932.1,1979.6 L934.1,1975.8 L936.1,1974.6 L937.1,1992.0 L938.8,2013.2 L941.3,2013.2 L943.8,2011.5 L945.8,2014.5 L947.5,2018.2 L948.8,2032.0 L950.8,2054.4 L952.5,2064.4 L954.5,2073.1 L956.3,2081.9 L957.5,2091.8 L960.8,2095.6 L962.8,2099.3 L964.0,2114.3 L965.2,2125.5 L967.5,2129.3 L970.7,2131.8 L973.2,2135.5 L975.7,2139.2 L977.5,2126.8 L978.7,2109.3 L979.5,2071.9 L980.2,2039.4 L981.2,2022.0 L983.7,2014.5 L986.2,2008.3 L987.5,1984.6 L988.7,1949.6 L991.4,1945.9 L994.4,1943.4 L995.7,1935.9 L996.9,1927.2 L998.9,1923.4 L1000.7,1922.2 L1001.4,1947.1 L1002.4,1971.6 L1003.9,1959.6 L1005.2,1955.9 L1006.4,1967.1 L1008.2,1977.1 L1010.7,1987.0 L1012.4,2009.5 L1013.9,2034.5 L1015.6,2059.4 L1017.6,2063.1 L1018.9,2066.9 L1020.6,2084.4 L1022.4,2089.3 L1024.4,2093.1 L1026.4,2098.1 L1027.6,2114.3 L1028.9,2126.8 L1031.9,2128.0 L1034.9,2129.8 L1038.1,2130.5 L1040.1,2129.8 L1041.8,2121.8 L1043.1,2104.3 L1043.8,2059.4 L1044.8,2007.0 L1046.8,1999.5 L1049.8,1992.0 L1051.1,1964.6 L1052.6,1932.2 L1055.6,1929.7 L1058.8,1927.2 L1059.8,1919.7 L1061.3,1915.2 L1064.3,1914.7 L1065.0,1934.7 L1066.3,1954.6 L1068.0,1958.4 L1069.8,1962.1 L1071.8,1965.8 L1073.0,1957.1 L1074.3,1948.4 L1075.5,1957.1 L1076.8,1974.6 L1078.0,1999.5 L1079.3,2024.5 L1081.3,2032.0 L1083.8,2041.9 L1086.0,2051.9 L1087.5,2056.9 L1089.8,2054.4 L1091.2,2061.9 L1093.0,2071.9 L1096.0,2079.4 L1097.5,2094.3 L1098.5,2105.6 L1101.2,2108.1 L1103.0,2105.6 L1104.7,2104.3 L1106.7,2108.1 L1107.7,2091.8 L1108.5,2034.5 L1109.2,2018.2 L1111.7,2013.2 L1114.2,2010.7 L1115.4,1984.6 L1116.7,1964.6 L1119.2,1959.6 L1122.2,1954.6 L1125.4,1951.6 L1127.9,1949.6 L1128.9,1964.6 L1129.9,1977.6 L1131.7,1972.1 L1133.7,1970.8 L1136.2,1973.3 L1139.2,1974.6 L1140.9,1989.5 L1142.9,2009.5 L1144.1,2022.0 L1146.6,2033.2 L1149.1,2044.4 L1151.6,2049.4 L1154.6,2056.9 L1156.1,2066.9 L1157.9,2079.4 L1159.6,2077.4 L1160.9,2091.8 L1162.1,2106.8 L1164.1,2105.6 L1166.6,2104.3 L1169.1,2101.8 L1171.1,2096.8 L1172.1,2071.9 L1172.8,2034.5 L1173.6,2019.5 L1176.1,2017.0 L1178.3,2014.5 L1179.3,1984.6 L1180.3,1967.1 L1182.8,1966.6 L1185.3,1964.6 L1187.3,1960.8 L1188.6,1953.4 L1191.0,1952.1 L1192.0,1959.6 L1193.0,1984.6 L1194.0,1994.5 L1195.5,1992.5 L1197.0,1990.0 L1199.2,1992.0 L1201.2,1997.0 L1202.4,2005.8 L1203.7,2022.0 L1204.9,2039.4 L1206.2,2056.9 L1208.2,2058.2 L1209.9,2057.4 L1211.2,2066.9 L1212.4,2076.9 L1214.9,2076.9 L1216.9,2074.9 L1218.7,2075.6 L1219.9,2086.8 L1221.9,2088.8 L1223.2,2085.1 L1224.9,2088.8 L1227.4,2093.1 L1230.4,2095.6 L1232.9,2093.8 L1234.4,2091.8 L1234.9,2059.4 L1235.6,2022.0 L1236.6,2002.0 L1239.4,1994.5 L1241.9,1987.0 L1242.9,1957.1 L1243.9,1930.9 L1246.1,1925.9 L1248.6,1923.9 L1251.1,1918.4 L1252.8,1914.7 L1254.8,1913.4 L1255.6,1934.7 L1256.6,1958.4 L1258.6,1959.6 L1261.1,1965.8 L1263.6,1972.1 L1266.1,1980.8 L1267.8,1994.5 L1269.8,2008.3 L1272.3,2010.7 L1274.1,2013.2 L1276.0,2020.7 L1278.5,2022.0 L1281.8,2021.5 L1282.8,2028.2 L1284.3,2036.4 L1287.3,2036.9 L1288.5,2051.9 L1289.8,2066.9 L1292.3,2071.4 L1294.8,2074.4 L1297.3,2071.4 L1298.5,2068.1 L1299.3,2034.5 L1300.2,1983.3 L1302.2,1978.3 L1306.0,1974.6 L1306.7,1949.6 L1307.7,1927.2 L1311.0,1925.2 L1313.5,1923.4 L1315.2,1914.7 L1317.2,1909.2 L1319.2,1908.5 L1320.2,1929.7 L1321.5,1952.1 L1323.0,1947.1 L1324.7,1945.9 L1326.7,1949.6 L1330.2,1957.1 L1332.2,1972.1 L1334.7,1989.5 L1337.2,2002.0 L1338.9,2017.0 L1340.2,2025.7 L1342.7,2029.0 L1345.9,2033.2 L1347.7,2049.4 L1349.7,2056.9 L1351.4,2066.9 L1353.4,2076.9 L1355.9,2084.4 L1359.1,2089.3 L1361.6,2081.9 L1362.6,2071.9 L1363.4,2034.5 L1364.1,1983.3 L1366.6,1977.1 L1369.1,1969.6 L1370.4,1934.7 L1371.6,1904.7 L1374.1,1899.2 L1377.1,1896.0 L1378.3,1889.7 L1379.6,1881.0 L1381.6,1877.3 L1383.3,1876.8 L1384.1,1897.2 L1385.1,1917.7 L1387.6,1920.9 L1390.1,1927.2 L1392.1,1932.2 L1394.1,1937.1 L1395.8,1954.6 L1397.8,1974.6 L1399.6,1975.8 L1401.5,1979.6 L1402.8,1992.0 L1404.0,2002.5 L1406.5,2004.0 L1409.0,2004.0 L1412.0,2009.0 L1415.0,2014.5 L1417.0,2022.0 L1419.0,2029.5 L1420.8,2034.5 L1422.8,2036.4 L1424.5,2034.5 L1425.7,2027.0 L1427.0,1997.0 L1427.7,1977.1 L1429.0,1965.8 L1431.5,1959.6 L1434.0,1958.9 L1435.0,1934.7 L1436.0,1915.9 L1439.0,1914.2 L1441.5,1911.7 L1442.7,1904.7 L1444.0,1901.0 L1445.7,1899.7 L1447.0,1900.2 L1448.0,1914.7 L1449.5,1929.2 L1450.7,1923.4 L1452.4,1921.7 L1454.4,1924.7 L1456.4,1932.2 L1458.2,1949.6 L1459.9,1972.1 L1461.9,1993.3 L1464.4,1999.5 L1465.7,2009.5 L1467.4,2020.7 L1470.7,2024.0 L1473.7,2027.5 L1475.1,2034.5 L1477.6,2039.4 L1479.4,2046.9 L1481.4,2051.4 L1483.9,2049.4 L1486.4,2051.9 L1488.9,2050.7 L1489.9,2034.5 L1490.6,1984.6 L1491.9,1959.6 L1494.4,1949.6 L1497.4,1940.9 L1498.4,1899.7 L1499.4,1866.0 L1501.8,1861.0 L1505.6,1856.1 L1506.8,1839.8 L1508.1,1829.9 L1509.8,1827.9 L1511.3,1829.9 L1512.3,1854.8 L1513.6,1876.0 L1515.6,1874.8 L1517.3,1879.8 L1518.8,1886.0 L1520.3,1869.8 L1521.3,1866.0 L1522.3,1889.7 L1523.6,1914.7 L1524.8,1934.7 L1526.3,1957.1 L1528.8,1969.6 L1531.3,1993.3 L1533.8,2000.8 L1536.3,2009.5 L1537.5,2022.0 L1539.3,2040.7 L1541.8,2046.9 L1544.3,2054.4 L1546.0,2057.4 L1547.5,2052.4 L1549.3,2058.2 L1550.5,2064.9 L1553.0,2060.6 L1553.7,2022.0 L1554.7,1989.5 L1555.5,1973.3 L1558.0,1962.1 L1560.5,1954.6 L1561.7,1922.2 L1563.0,1899.7 L1564.7,1894.7 L1567.2,1892.2 L1569.2,1889.7 L1571.0,1883.5 L1573.0,1877.3 L1574.7,1876.0 L1575.4,1904.7 L1576.7,1928.4 L1579.7,1927.7 L1582.2,1932.2 L1584.2,1939.6 L1585.9,1949.6 L1587.4,1972.1 L1589.2,1987.0 L1592.2,2000.8 L1594.2,2012.0 L1595.9,2027.0 L1597.9,2034.5 L1601.1,2040.7 L1602.4,2051.9 L1603.6,2058.2 L1605.4,2055.7 L1607.9,2044.4 L1610.4,2038.2 L1612.1,2037.4 L1614.1,2040.7 L1617.1,2040.7 L1617.9,1984.6 L1618.6,1939.6 L1619.6,1919.7 L1622.1,1909.7 L1624.6,1899.7 L1625.3,1859.8 L1626.1,1821.1 L1627.1,1802.4 L1629.6,1798.7 L1632.8,1794.9 L1634.1,1785.0 L1635.3,1778.0 L1637.1,1777.0 L1638.3,1778.7 L1639.1,1809.9 L1640.1,1843.6 L1642.8,1841.8 L1645.3,1844.8 L1647.8,1852.3 L1649.1,1859.8 L1650.3,1872.3 L1652.0,1894.7 L1654.0,1908.5 L1656.2,1909.2 L1657.5,1917.2 L1658.5,1930.9 L1660.0,1932.2 L1661.2,1924.7 L1662.4,1919.7 L1664.9,1918.9 L1665.9,1927.2 L1666.9,1934.7 L1669.4,1938.4 L1672.4,1945.9 L1676.2,1952.1 L1679.4,1956.6 L1681.2,1958.4 L1681.9,1939.6 L1682.9,1919.7 L1684.4,1920.9 L1686.1,1927.2 L1688.6,1928.4 L1689.4,1904.7 L1690.4,1874.8 L1692.9,1869.3 L1696.1,1866.8 L1697.4,1849.8 L1698.6,1834.9 L1700.4,1832.4 L1702.4,1832.4 L1703.1,1854.8 L1703.9,1882.3 L1705.4,1893.5 L1706.6,1882.3 L1707.9,1867.3 L1709.4,1861.0 L1711.1,1866.0 L1713.1,1873.5 L1713.8,1897.2 L1714.8,1924.7 L1716.6,1944.6 L1718.6,1954.6 L1720.6,1962.1 L1722.3,1982.1 L1723.6,1993.3 L1726.1,1993.3 L1729.1,1992.0 L1730.3,2007.0 L1731.8,2019.5 L1734.1,2032.0 L1736.0,2046.9 L1738.5,2059.4 L1741.0,2071.9 L1742.8,2079.4 L1744.3,2081.9 L1745.5,2078.1 L1746.5,2059.4 L1747.3,2044.4 L1749.8,2036.9 L1752.8,2028.2 L1754.0,2002.0 L1755.3,1979.6 L1757.8,1969.6 L1760.2,1957.1 L1761.7,1939.6 L1762.7,1919.7 L1764.2,1914.2 L1766.0,1912.7 L1767.0,1927.2 L1768.2,1943.4 L1769.7,1939.1 L1771.7,1939.6 L1773.5,1947.1 L1775.5,1955.9 L1777.2,1959.6 L1779.2,1974.6 L1781.5,1985.8 L1784.2,1989.0 L1785.4,2002.0 L1786.7,2014.5 L1789.2,2018.2 L1792.2,2022.0 L1793.9,2036.9 L1795.9,2050.7 L1797.7,2055.7 L1800.9,2057.4 L1804.2,2059.4 L1807.2,2060.6 L1808.4,2061.9 L1809.7,2046.9 L1810.9,2034.5 L1814.1,2030.0 L1816.6,2023.2 L1817.9,2007.0 L1819.1,1993.3 L1822.1,1990.8 L1824.6,1992.0 L1826.6,1979.6 L1829.1,1973.3 L1830.9,1972.8 L1832.1,1974.6 L1833.9,1967.1 L1835.8,1963.3 L1838.3,1962.6 L1840.3,1964.1 L1841.6,1974.6 L1843.3,1987.0 L1845.3,1994.0 L1847.6,1992.0 L1850.1,1989.0 L1852.8,1986.5 L1855.3,1986.3 L1856.6,1987.0 L1858.3,1994.5 L1861.5,2005.8 L1862.8,2017.0 L1864.0,2024.5 L1867.0,2027.0 L1870.0,2030.7 L1872.0,2032.7 L1873.8,2024.5 L1875.0,2019.5 L1877.0,2028.2 L1878.3,2041.9 L1880.0,2054.4 L1882.5,2059.4 L1885.0,2066.9 L1887.5,2074.9 L1889.5,2086.8 L1891.2,2090.6 L1893.2,2089.3 L1895.0,2078.1 L1897.0,2063.1 L1899.0,2060.1 L1901.2,2059.4 L1903.2,2061.9 L1905.7,2066.9 L1908.2,2074.4 L1910.0,2080.6 L1912.4,2084.4 L1914.4,2090.6 L1916.4,2098.1 L1918.9,2099.8 L1921.9,2100.6 L1923.7,2105.6 L1925.2,2115.0 L1926.9,2106.8 L1928.2,2101.8 L1930.2,2108.1 L1932.4,2105.6 L1934.4,2095.6 L1936.4,2081.9 L1937.6,2066.9 L1938.6,2041.9 L1940.6,2040.7 L1943.9,2038.2 L1944.9,2024.5 L1946.1,2012.0 L1948.1,2005.8 L1950.6,2000.8 L1953.1,1994.5 L1956.1,1990.0 L1959.4,1988.3 L1961.8,1990.8 L1963.8,1994.0 L1966.8,1995.8 L1969.8,1998.3 L1971.8,2000.8 L1973.8,2005.8 L1976.8,2010.7 L1979.3,2014.5 L1981.8,2016.5 L1984.3,2017.5 L1985.5,2027.0 L1986.8,2033.2 L1989.3,2033.2 L1991.3,2041.9 L1993.5,2051.9 L1996.0,2058.2 L1998.8,2064.4 L2000.5,2071.9 L2002.3,2078.1 L2004.8,2080.6 L2006.8,2078.1 L2008.5,2071.9 L2009.8,2059.4 L2011.7,2053.2 L2014.2,2048.9 L2016.7,2041.9 L2018.0,2032.0 L2019.2,2029.0 L2021.2,2028.2 L2022.5,2036.9 L2023.7,2045.7 L2026.7,2045.7 L2030.5,2045.7 L2033.0,2047.4 L2034.7,2051.9 L2035.9,2061.9 L2037.2,2068.1 L2039.7,2071.9 L2041.2,2081.9 L2042.9,2089.3 L2045.4,2093.1 L2047.9,2094.3 L2049.2,2104.3 L2050.4,2110.5 L2052.9,2112.3 L2054.2,2119.3 L2056.2,2126.8 L2058.7,2126.8 L2061.1,2124.3 L2063.6,2119.3 L2064.6,2096.8 L2065.9,2058.2 L2068.4,2054.4 L2071.1,2049.4 L2072.4,2034.5 L2073.6,2014.5 L2076.1,2012.5 L2079.1,2010.2 L2082.1,2010.0 L2084.6,2009.5 L2085.6,2027.0 L2087.1,2045.2 L2089.6,2044.4 L2092.1,2041.4 L2095.3,2041.4 L2096.6,2046.9 L2098.6,2061.9 L2100.3,2081.9 L2102.1,2099.3 L2104.1,2111.8 L2105.8,2131.3 L2108.3,2131.8 L2110.8,2128.0 L2112.0,2129.3 L2113.0,2149.2 L2114.0,2161.7 L2116.7,2164.2 L2119.2,2169.7 L2121.7,2171.7 L2124.7,2169.2 L2126.5,2159.2 L2128.5,2148.0 L2129.2,2109.3 L2130.0,2063.9 L2132.7,2062.4 L2135.9,2060.6 L2136.7,2041.9 L2137.7,2027.0 L2140.4,2026.5 L2143.4,2023.2 L2144.7,2012.0 L2145.9,2003.3 L2147.7,2002.5 L2149.7,2003.3 L2150.4,2024.5 L2151.4,2043.2 L2152.7,2032.0 L2154.2,2028.2 L2156.6,2030.7 L2159.1,2034.5 L2160.4,2044.4 L2161.6,2059.4 L2163.4,2076.9 L2164.6,2091.8 L2166.6,2106.8 L2168.4,2119.3 L2169.6,2126.8 L2172.1,2129.8 L2175.9,2129.3 L2177.1,2134.3 L2178.4,2137.5 L2180.8,2134.3 L2183.3,2126.8 L2185.8,2124.8 L2188.3,2131.8 L2191.3,2133.0 L2192.1,2096.8 L2192.8,2046.9 L2193.8,2017.0 L2195.8,2009.5 L2198.8,1994.5 L2199.6,1959.6 L2200.6,1934.7 L2201.6,1917.9 L2204.1,1913.4 L2207.0,1907.7 L2208.0,1894.7 L2209.0,1881.0 L2210.8,1879.8 L2212.8,1879.8 L2213.5,1899.7 L2214.5,1925.9 L2216.5,1924.7 L2218.3,1923.4 L2220.8,1925.9 L2223.3,1930.9 L2224.5,1942.1 L2225.8,1954.6 L2227.0,1964.6 L2228.8,1969.6 L2231.2,1973.3 L2232.5,1984.6 L2234.0,1999.5 L2235.7,2005.8 L2237.7,2010.7 L2239.5,2015.7 L2240.7,2029.5 L2242.0,2041.9 L2244.0,2049.4 L2247.0,2050.2 L2249.5,2055.7 L2252.0,2061.4 L2254.5,2058.2 L2255.7,2046.9 L2256.4,2009.5 L2257.2,1964.6 L2257.9,1940.9 L2260.7,1934.7 L2263.2,1929.7 L2264.4,1904.7 L2265.4,1868.5 L2268.2,1862.3 L2271.2,1854.8 L2272.4,1842.3 L2273.9,1838.6 L2275.9,1836.1 L2277.4,1837.3 L2278.2,1864.8 L2279.4,1896.0 L2281.9,1896.0 L2284.9,1896.0 L2286.4,1904.7 L2288.1,1917.2 L2290.1,1937.1 L2291.9,1957.1 L2294.4,1967.1 L2296.1,1975.8 L2297.4,1982.1 L2300.6,1982.6 L2302.6,1979.1 L2303.6,1997.0 L2304.9,2009.5 L2306.3,1999.5 L2308.1,1999.0 L2309.8,2005.8 L2312.3,2008.3 L2314.3,2014.5 L2315.6,2027.0 L2316.8,2034.5 L2318.8,2034.0 L2319.6,2009.5 L2320.6,1967.1 L2321.6,1943.4 L2324.3,1935.9 L2326.8,1927.2 L2328.1,1902.2 L2329.3,1877.3 L2331.8,1868.5 L2334.3,1862.3 L2336.0,1853.6 L2338.0,1846.8 L2340.5,1846.1 L2341.5,1867.3 L2342.8,1886.0 L2344.3,1874.8 L2345.5,1869.8 L2347.5,1871.0 L2349.8,1874.8 L2351.8,1884.8 L2353.5,1904.7 L2355.0,1927.2 L2356.7,1944.6 L2359.2,1950.9 L2361.0,1967.1 L2364.2,1970.8 L2367.5,1975.8 L2368.7,1989.5 L2370.0,1999.0 L2373.0,1999.5 L2375.5,1998.3 L2378.0,1998.3 L2380.9,1992.0 L2383.4,1985.8 L2384.4,1947.1 L2385.4,1914.7 L2387.9,1903.5 L2390.9,1899.7 L2392.2,1884.8 L2393.4,1873.5 L2395.9,1871.0 L2397.9,1876.0 L2399.9,1883.5 L2401.7,1887.2 L2403.4,1881.0 L2404.7,1876.8 L2406.1,1889.7 L2409.1,1892.2 L2412.9,1895.2 L2415.4,1894.7 L2417.9,1901.0 L2420.4,1911.7 L2423.4,1915.9 L2425.4,1927.2 L2427.9,1934.7 L2431.1,1939.6 L2432.3,1949.6 L2433.6,1954.6 L2436.6,1955.9 L2439.1,1958.9 L2441.6,1961.6" fill="none" stroke="#0072bd" stroke-width="3.8" stroke-linejoin="round" stroke-linecap="butt" shape-rendering="crispEdges" clip-path="url(#c3)"/>
<text x="241.5" y="1890.6" font-size="66.5" fill="#262626" stroke="#262626" text-anchor="end">280</text>
<text x="241.5" y="2067.2" font-size="66.5" fill="#262626" stroke="#262626" text-anchor="end">270</text>
<text x="241.5" y="2243.7" font-size="66.5" fill="#262626" stroke="#262626" text-anchor="end">260</text>
<text transform="translate(99,1997.2) rotate(-90)" font-size="72.8" fill="#262626" stroke="#262626" text-anchor="middle">Tm(K)</text>
<text x="815.3" y="1872.1" font-size="72.8" fill="#000" stroke="#000" letter-spacing="-1">NXZW</text>
<text transform="translate(314.5,2292) rotate(-45)" font-size="66.5" fill="#262626" stroke="#262626" text-anchor="end">2/20</text>
<text transform="translate(442.2,2292) rotate(-45)" font-size="66.5" fill="#262626" stroke="#262626" text-anchor="end">2/22</text>
<text transform="translate(569.8,2292) rotate(-45)" font-size="66.5" fill="#262626" stroke="#262626" text-anchor="end">2/24</text>
<text transform="translate(697.5,2292) rotate(-45)" font-size="66.5" fill="#262626" stroke="#262626" text-anchor="end">2/26</text>
<text transform="translate(825.2,2292) rotate(-45)" font-size="66.5" fill="#262626" stroke="#262626" text-anchor="end">2/28</text>
<text transform="translate(952.8,2292) rotate(-45)" font-size="66.5" fill="#262626" stroke="#262626" text-anchor="end">3/2</text>
<text transform="translate(1080.5,2292) rotate(-45)" font-size="66.5" fill="#262626" stroke="#262626" text-anchor="end">3/4</text>
<text transform="translate(1208.2,2292) rotate(-45)" font-size="66.5" fill="#262626" stroke="#262626" text-anchor="end">3/6</text>
<text transform="translate(1335.8,2292) rotate(-45)" font-size="66.5" fill="#262626" stroke="#262626" text-anchor="end">3/8</text>
<text transform="translate(1463.5,2292) rotate(-45)" font-size="66.5" fill="#262626" stroke="#262626" text-anchor="end">3/10</text>
<text transform="translate(1591.2,2292) rotate(-45)" font-size="66.5" fill="#262626" stroke="#262626" text-anchor="end">3/12</text>
<text transform="translate(1718.8,2292) rotate(-45)" font-size="66.5" fill="#262626" stroke="#262626" text-anchor="end">3/14</text>
<text transform="translate(1846.5,2292) rotate(-45)" font-size="66.5" fill="#262626" stroke="#262626" text-anchor="end">3/16</text>
<text transform="translate(1974.2,2292) rotate(-45)" font-size="66.5" fill="#262626" stroke="#262626" text-anchor="end">3/18</text>
<text transform="translate(2101.8,2292) rotate(-45)" font-size="66.5" fill="#262626" stroke="#262626" text-anchor="end">3/20</text>
<text transform="translate(2229.5,2292) rotate(-45)" font-size="66.5" fill="#262626" stroke="#262626" text-anchor="end">3/24</text>
<text transform="translate(2357.2,2292) rotate(-45)" font-size="66.5" fill="#262626" stroke="#262626" text-anchor="end">3/26</text>
<text transform="translate(2484.8,2292) rotate(-45)" font-size="66.5" fill="#262626" stroke="#262626" text-anchor="end">3/28</text>
<text x="1355" y="2471.7" font-size="72.8" fill="#262626" stroke="#262626" text-anchor="middle">Date</text>
</svg></body></html>
